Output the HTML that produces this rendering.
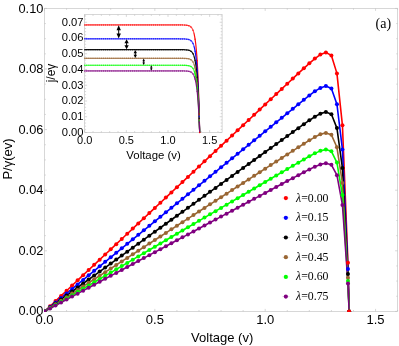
<!DOCTYPE html>
<html><head><meta charset="utf-8"><style>
html,body{margin:0;padding:0;background:#fff}
#c{position:absolute;left:0;top:0;width:399px;height:346px;overflow:hidden;background:#fff;font-family:"Liberation Sans",sans-serif;color:#000}
#L{position:absolute;left:0;top:0;width:399px;height:346px;will-change:transform;opacity:0.999}
.t{position:absolute;white-space:nowrap;line-height:1;font-family:"Liberation Sans",sans-serif}
</style></head><body><div id="c">
<svg width="399" height="346" viewBox="0 0 399 346" style="position:absolute;left:0;top:0">
<g stroke="#bdbdbd" stroke-width="0.6" fill="none">
<rect x="44.50" y="8.40" width="353.12" height="303.00"/>
<path d="M44.50 311.40v-2.5M44.50 8.40v2.5"/>
<path d="M66.57 311.40v-1.4M66.57 8.40v1.4"/>
<path d="M88.64 311.40v-1.4M88.64 8.40v1.4"/>
<path d="M110.71 311.40v-1.4M110.71 8.40v1.4"/>
<path d="M132.78 311.40v-1.4M132.78 8.40v1.4"/>
<path d="M154.85 311.40v-2.5M154.85 8.40v2.5"/>
<path d="M176.92 311.40v-1.4M176.92 8.40v1.4"/>
<path d="M198.99 311.40v-1.4M198.99 8.40v1.4"/>
<path d="M221.06 311.40v-1.4M221.06 8.40v1.4"/>
<path d="M243.13 311.40v-1.4M243.13 8.40v1.4"/>
<path d="M265.20 311.40v-2.5M265.20 8.40v2.5"/>
<path d="M287.27 311.40v-1.4M287.27 8.40v1.4"/>
<path d="M309.34 311.40v-1.4M309.34 8.40v1.4"/>
<path d="M331.41 311.40v-1.4M331.41 8.40v1.4"/>
<path d="M353.48 311.40v-1.4M353.48 8.40v1.4"/>
<path d="M375.55 311.40v-2.5M375.55 8.40v2.5"/>
<path d="M397.62 311.40v-1.4M397.62 8.40v1.4"/>
<path d="M44.50 311.40h2.5M397.62 311.40h-2.5"/>
<path d="M44.50 296.25h1.4M397.62 296.25h-1.4"/>
<path d="M44.50 281.10h1.4M397.62 281.10h-1.4"/>
<path d="M44.50 265.95h1.4M397.62 265.95h-1.4"/>
<path d="M44.50 250.80h2.5M397.62 250.80h-2.5"/>
<path d="M44.50 235.65h1.4M397.62 235.65h-1.4"/>
<path d="M44.50 220.50h1.4M397.62 220.50h-1.4"/>
<path d="M44.50 205.35h1.4M397.62 205.35h-1.4"/>
<path d="M44.50 190.20h2.5M397.62 190.20h-2.5"/>
<path d="M44.50 175.05h1.4M397.62 175.05h-1.4"/>
<path d="M44.50 159.90h1.4M397.62 159.90h-1.4"/>
<path d="M44.50 144.75h1.4M397.62 144.75h-1.4"/>
<path d="M44.50 129.60h2.5M397.62 129.60h-2.5"/>
<path d="M44.50 114.45h1.4M397.62 114.45h-1.4"/>
<path d="M44.50 99.30h1.4M397.62 99.30h-1.4"/>
<path d="M44.50 84.15h1.4M397.62 84.15h-1.4"/>
<path d="M44.50 69.00h2.5M397.62 69.00h-2.5"/>
<path d="M44.50 53.85h1.4M397.62 53.85h-1.4"/>
<path d="M44.50 38.70h1.4M397.62 38.70h-1.4"/>
<path d="M44.50 23.55h1.4M397.62 23.55h-1.4"/>
<path d="M44.50 8.40h2.5M397.62 8.40h-2.5"/>
</g>
<clipPath id="cp"><rect x="44.00" y="8.40" width="353.62" height="303.60"/></clipPath><g clip-path="url(#cp)">
<path d="M44.50 311.40 L50.02 306.23 L55.53 301.05 L61.05 295.88 L66.57 290.71 L72.09 285.53 L77.61 280.36 L83.12 275.18 L88.64 270.01 L94.16 264.84 L99.67 259.66 L105.19 254.49 L110.71 249.32 L116.23 244.14 L121.75 238.97 L127.26 233.79 L132.78 228.62 L138.30 223.45 L143.81 218.27 L149.33 213.10 L154.85 207.93 L160.37 202.75 L165.88 197.58 L171.40 192.40 L176.92 187.23 L182.44 182.06 L187.95 176.88 L193.47 171.71 L198.99 166.54 L204.51 161.36 L210.02 156.19 L215.54 151.01 L221.06 145.84 L226.58 140.67 L232.09 135.49 L237.61 130.32 L243.13 125.15 L248.65 119.97 L254.16 114.80 L259.68 109.62 L265.20 104.45 L270.72 99.28 L276.24 94.10 L281.75 88.93 L287.27 83.76 L292.79 78.60 L298.31 73.45 L303.82 68.34 L309.34 63.34 L314.86 58.61 L320.38 54.61 L325.89 52.52 L331.41 55.41 L336.93 73.39 L342.44 125.33 L347.96 262.74 L349.11 311.40" stroke="#ff0000" stroke-width="1.6" fill="none" stroke-linejoin="round"/>
<path d="M44.50 311.40 L50.02 306.90 L55.53 302.39 L61.05 297.89 L66.57 293.39 L72.09 288.88 L77.61 284.38 L83.12 279.88 L88.64 275.37 L94.16 270.87 L99.67 266.37 L105.19 261.86 L110.71 257.36 L116.23 252.86 L121.75 248.35 L127.26 243.85 L132.78 239.35 L138.30 234.84 L143.81 230.34 L149.33 225.84 L154.85 221.33 L160.37 216.83 L165.88 212.33 L171.40 207.82 L176.92 203.32 L182.44 198.82 L187.95 194.31 L193.47 189.81 L198.99 185.31 L204.51 180.80 L210.02 176.30 L215.54 171.80 L221.06 167.29 L226.58 162.79 L232.09 158.29 L237.61 153.78 L243.13 149.28 L248.65 144.78 L254.16 140.27 L259.68 135.77 L265.20 131.27 L270.72 126.76 L276.24 122.26 L281.75 117.76 L287.27 113.26 L292.79 108.76 L298.31 104.28 L303.82 99.83 L309.34 95.48 L314.86 91.37 L320.38 87.89 L325.89 86.07 L331.41 88.58 L336.93 104.23 L342.44 149.44 L347.96 269.05 L349.11 311.40" stroke="#0000ff" stroke-width="1.6" fill="none" stroke-linejoin="round"/>
<path d="M44.50 311.40 L50.02 307.42 L55.53 303.43 L61.05 299.45 L66.57 295.46 L72.09 291.48 L77.61 287.49 L83.12 283.51 L88.64 279.52 L94.16 275.54 L99.67 271.56 L105.19 267.57 L110.71 263.59 L116.23 259.60 L121.75 255.62 L127.26 251.63 L132.78 247.65 L138.30 243.66 L143.81 239.68 L149.33 235.70 L154.85 231.71 L160.37 227.73 L165.88 223.74 L171.40 219.76 L176.92 215.77 L182.44 211.79 L187.95 207.80 L193.47 203.82 L198.99 199.84 L204.51 195.85 L210.02 191.87 L215.54 187.88 L221.06 183.90 L226.58 179.91 L232.09 175.93 L237.61 171.94 L243.13 167.96 L248.65 163.98 L254.16 159.99 L259.68 156.01 L265.20 152.02 L270.72 148.04 L276.24 144.05 L281.75 140.07 L287.27 136.09 L292.79 132.11 L298.31 128.15 L303.82 124.21 L309.34 120.36 L314.86 116.72 L320.38 113.64 L325.89 112.03 L331.41 114.26 L336.93 128.10 L342.44 168.10 L347.96 273.93 L349.11 311.40" stroke="#000000" stroke-width="1.6" fill="none" stroke-linejoin="round"/>
<path d="M44.50 311.40 L50.02 307.83 L55.53 304.26 L61.05 300.70 L66.57 297.13 L72.09 293.56 L77.61 289.99 L83.12 286.43 L88.64 282.86 L94.16 279.29 L99.67 275.72 L105.19 272.15 L110.71 268.59 L116.23 265.02 L121.75 261.45 L127.26 257.88 L132.78 254.31 L138.30 250.75 L143.81 247.18 L149.33 243.61 L154.85 240.04 L160.37 236.48 L165.88 232.91 L171.40 229.34 L176.92 225.77 L182.44 222.20 L187.95 218.64 L193.47 215.07 L198.99 211.50 L204.51 207.93 L210.02 204.37 L215.54 200.80 L221.06 197.23 L226.58 193.66 L232.09 190.09 L237.61 186.53 L243.13 182.96 L248.65 179.39 L254.16 175.82 L259.68 172.25 L265.20 168.69 L270.72 165.12 L276.24 161.55 L281.75 157.99 L287.27 154.42 L292.79 150.86 L298.31 147.31 L303.82 143.78 L309.34 140.34 L314.86 137.08 L320.38 134.32 L325.89 132.88 L331.41 134.87 L336.93 147.27 L342.44 183.09 L347.96 277.84 L349.11 311.40" stroke="#996633" stroke-width="1.6" fill="none" stroke-linejoin="round"/>
<path d="M44.50 311.40 L50.02 308.17 L55.53 304.93 L61.05 301.70 L66.57 298.46 L72.09 295.23 L77.61 291.99 L83.12 288.76 L88.64 285.52 L94.16 282.29 L99.67 279.05 L105.19 275.82 L110.71 272.59 L116.23 269.35 L121.75 266.12 L127.26 262.88 L132.78 259.65 L138.30 256.41 L143.81 253.18 L149.33 249.94 L154.85 246.71 L160.37 243.47 L165.88 240.24 L171.40 237.01 L176.92 233.77 L182.44 230.54 L187.95 227.30 L193.47 224.07 L198.99 220.83 L204.51 217.60 L210.02 214.36 L215.54 211.13 L221.06 207.90 L226.58 204.66 L232.09 201.43 L237.61 198.19 L243.13 194.96 L248.65 191.72 L254.16 188.49 L259.68 185.25 L265.20 182.02 L270.72 178.78 L276.24 175.55 L281.75 172.32 L287.27 169.08 L292.79 165.86 L298.31 162.64 L303.82 159.44 L309.34 156.32 L314.86 153.36 L320.38 150.86 L325.89 149.55 L331.41 151.36 L336.93 162.60 L342.44 195.07 L347.96 280.98 L349.11 311.40" stroke="#00ff00" stroke-width="1.6" fill="none" stroke-linejoin="round"/>
<path d="M44.50 311.40 L50.02 308.44 L55.53 305.48 L61.05 302.51 L66.57 299.55 L72.09 296.59 L77.61 293.63 L83.12 290.67 L88.64 287.71 L94.16 284.74 L99.67 281.78 L105.19 278.82 L110.71 275.86 L116.23 272.90 L121.75 269.93 L127.26 266.97 L132.78 264.01 L138.30 261.05 L143.81 258.09 L149.33 255.13 L154.85 252.16 L160.37 249.20 L165.88 246.24 L171.40 243.28 L176.92 240.32 L182.44 237.35 L187.95 234.39 L193.47 231.43 L198.99 228.47 L204.51 225.51 L210.02 222.55 L215.54 219.58 L221.06 216.62 L226.58 213.66 L232.09 210.70 L237.61 207.74 L243.13 204.77 L248.65 201.81 L254.16 198.85 L259.68 195.89 L265.20 192.93 L270.72 189.97 L276.24 187.00 L281.75 184.04 L287.27 181.08 L292.79 178.13 L298.31 175.18 L303.82 172.25 L309.34 169.39 L314.86 166.69 L320.38 164.40 L325.89 163.20 L331.41 164.85 L336.93 175.14 L342.44 204.88 L347.96 283.54 L349.11 311.40" stroke="#800080" stroke-width="1.6" fill="none" stroke-linejoin="round"/>
<g fill="#ff0000"><circle cx="44.50" cy="311.40" r="2"/><circle cx="50.02" cy="306.23" r="2"/><circle cx="55.53" cy="301.05" r="2"/><circle cx="61.05" cy="295.88" r="2"/><circle cx="66.57" cy="290.71" r="2"/><circle cx="72.09" cy="285.53" r="2"/><circle cx="77.61" cy="280.36" r="2"/><circle cx="83.12" cy="275.18" r="2"/><circle cx="88.64" cy="270.01" r="2"/><circle cx="94.16" cy="264.84" r="2"/><circle cx="99.67" cy="259.66" r="2"/><circle cx="105.19" cy="254.49" r="2"/><circle cx="110.71" cy="249.32" r="2"/><circle cx="116.23" cy="244.14" r="2"/><circle cx="121.75" cy="238.97" r="2"/><circle cx="127.26" cy="233.79" r="2"/><circle cx="132.78" cy="228.62" r="2"/><circle cx="138.30" cy="223.45" r="2"/><circle cx="143.81" cy="218.27" r="2"/><circle cx="149.33" cy="213.10" r="2"/><circle cx="154.85" cy="207.93" r="2"/><circle cx="160.37" cy="202.75" r="2"/><circle cx="165.88" cy="197.58" r="2"/><circle cx="171.40" cy="192.40" r="2"/><circle cx="176.92" cy="187.23" r="2"/><circle cx="182.44" cy="182.06" r="2"/><circle cx="187.95" cy="176.88" r="2"/><circle cx="193.47" cy="171.71" r="2"/><circle cx="198.99" cy="166.54" r="2"/><circle cx="204.51" cy="161.36" r="2"/><circle cx="210.02" cy="156.19" r="2"/><circle cx="215.54" cy="151.01" r="2"/><circle cx="221.06" cy="145.84" r="2"/><circle cx="226.58" cy="140.67" r="2"/><circle cx="232.09" cy="135.49" r="2"/><circle cx="237.61" cy="130.32" r="2"/><circle cx="243.13" cy="125.15" r="2"/><circle cx="248.65" cy="119.97" r="2"/><circle cx="254.16" cy="114.80" r="2"/><circle cx="259.68" cy="109.62" r="2"/><circle cx="265.20" cy="104.45" r="2"/><circle cx="270.72" cy="99.28" r="2"/><circle cx="276.24" cy="94.10" r="2"/><circle cx="281.75" cy="88.93" r="2"/><circle cx="287.27" cy="83.76" r="2"/><circle cx="292.79" cy="78.60" r="2"/><circle cx="298.31" cy="73.45" r="2"/><circle cx="303.82" cy="68.34" r="2"/><circle cx="309.34" cy="63.34" r="2"/><circle cx="314.86" cy="58.61" r="2"/><circle cx="320.38" cy="54.61" r="2"/><circle cx="325.89" cy="52.52" r="2"/><circle cx="331.41" cy="55.41" r="2"/><circle cx="336.93" cy="73.39" r="2"/><circle cx="342.44" cy="125.33" r="2"/><circle cx="347.96" cy="262.74" r="2"/><circle cx="349.11" cy="311.40" r="2"/></g>
<g fill="#0000ff"><circle cx="44.50" cy="311.40" r="2"/><circle cx="50.02" cy="306.90" r="2"/><circle cx="55.53" cy="302.39" r="2"/><circle cx="61.05" cy="297.89" r="2"/><circle cx="66.57" cy="293.39" r="2"/><circle cx="72.09" cy="288.88" r="2"/><circle cx="77.61" cy="284.38" r="2"/><circle cx="83.12" cy="279.88" r="2"/><circle cx="88.64" cy="275.37" r="2"/><circle cx="94.16" cy="270.87" r="2"/><circle cx="99.67" cy="266.37" r="2"/><circle cx="105.19" cy="261.86" r="2"/><circle cx="110.71" cy="257.36" r="2"/><circle cx="116.23" cy="252.86" r="2"/><circle cx="121.75" cy="248.35" r="2"/><circle cx="127.26" cy="243.85" r="2"/><circle cx="132.78" cy="239.35" r="2"/><circle cx="138.30" cy="234.84" r="2"/><circle cx="143.81" cy="230.34" r="2"/><circle cx="149.33" cy="225.84" r="2"/><circle cx="154.85" cy="221.33" r="2"/><circle cx="160.37" cy="216.83" r="2"/><circle cx="165.88" cy="212.33" r="2"/><circle cx="171.40" cy="207.82" r="2"/><circle cx="176.92" cy="203.32" r="2"/><circle cx="182.44" cy="198.82" r="2"/><circle cx="187.95" cy="194.31" r="2"/><circle cx="193.47" cy="189.81" r="2"/><circle cx="198.99" cy="185.31" r="2"/><circle cx="204.51" cy="180.80" r="2"/><circle cx="210.02" cy="176.30" r="2"/><circle cx="215.54" cy="171.80" r="2"/><circle cx="221.06" cy="167.29" r="2"/><circle cx="226.58" cy="162.79" r="2"/><circle cx="232.09" cy="158.29" r="2"/><circle cx="237.61" cy="153.78" r="2"/><circle cx="243.13" cy="149.28" r="2"/><circle cx="248.65" cy="144.78" r="2"/><circle cx="254.16" cy="140.27" r="2"/><circle cx="259.68" cy="135.77" r="2"/><circle cx="265.20" cy="131.27" r="2"/><circle cx="270.72" cy="126.76" r="2"/><circle cx="276.24" cy="122.26" r="2"/><circle cx="281.75" cy="117.76" r="2"/><circle cx="287.27" cy="113.26" r="2"/><circle cx="292.79" cy="108.76" r="2"/><circle cx="298.31" cy="104.28" r="2"/><circle cx="303.82" cy="99.83" r="2"/><circle cx="309.34" cy="95.48" r="2"/><circle cx="314.86" cy="91.37" r="2"/><circle cx="320.38" cy="87.89" r="2"/><circle cx="325.89" cy="86.07" r="2"/><circle cx="331.41" cy="88.58" r="2"/><circle cx="336.93" cy="104.23" r="2"/><circle cx="342.44" cy="149.44" r="2"/><circle cx="347.96" cy="269.05" r="2"/><circle cx="349.11" cy="311.40" r="2"/></g>
<g fill="#000000"><circle cx="44.50" cy="311.40" r="2"/><circle cx="50.02" cy="307.42" r="2"/><circle cx="55.53" cy="303.43" r="2"/><circle cx="61.05" cy="299.45" r="2"/><circle cx="66.57" cy="295.46" r="2"/><circle cx="72.09" cy="291.48" r="2"/><circle cx="77.61" cy="287.49" r="2"/><circle cx="83.12" cy="283.51" r="2"/><circle cx="88.64" cy="279.52" r="2"/><circle cx="94.16" cy="275.54" r="2"/><circle cx="99.67" cy="271.56" r="2"/><circle cx="105.19" cy="267.57" r="2"/><circle cx="110.71" cy="263.59" r="2"/><circle cx="116.23" cy="259.60" r="2"/><circle cx="121.75" cy="255.62" r="2"/><circle cx="127.26" cy="251.63" r="2"/><circle cx="132.78" cy="247.65" r="2"/><circle cx="138.30" cy="243.66" r="2"/><circle cx="143.81" cy="239.68" r="2"/><circle cx="149.33" cy="235.70" r="2"/><circle cx="154.85" cy="231.71" r="2"/><circle cx="160.37" cy="227.73" r="2"/><circle cx="165.88" cy="223.74" r="2"/><circle cx="171.40" cy="219.76" r="2"/><circle cx="176.92" cy="215.77" r="2"/><circle cx="182.44" cy="211.79" r="2"/><circle cx="187.95" cy="207.80" r="2"/><circle cx="193.47" cy="203.82" r="2"/><circle cx="198.99" cy="199.84" r="2"/><circle cx="204.51" cy="195.85" r="2"/><circle cx="210.02" cy="191.87" r="2"/><circle cx="215.54" cy="187.88" r="2"/><circle cx="221.06" cy="183.90" r="2"/><circle cx="226.58" cy="179.91" r="2"/><circle cx="232.09" cy="175.93" r="2"/><circle cx="237.61" cy="171.94" r="2"/><circle cx="243.13" cy="167.96" r="2"/><circle cx="248.65" cy="163.98" r="2"/><circle cx="254.16" cy="159.99" r="2"/><circle cx="259.68" cy="156.01" r="2"/><circle cx="265.20" cy="152.02" r="2"/><circle cx="270.72" cy="148.04" r="2"/><circle cx="276.24" cy="144.05" r="2"/><circle cx="281.75" cy="140.07" r="2"/><circle cx="287.27" cy="136.09" r="2"/><circle cx="292.79" cy="132.11" r="2"/><circle cx="298.31" cy="128.15" r="2"/><circle cx="303.82" cy="124.21" r="2"/><circle cx="309.34" cy="120.36" r="2"/><circle cx="314.86" cy="116.72" r="2"/><circle cx="320.38" cy="113.64" r="2"/><circle cx="325.89" cy="112.03" r="2"/><circle cx="331.41" cy="114.26" r="2"/><circle cx="336.93" cy="128.10" r="2"/><circle cx="342.44" cy="168.10" r="2"/><circle cx="347.96" cy="273.93" r="2"/><circle cx="349.11" cy="311.40" r="2"/></g>
<g fill="#996633"><circle cx="44.50" cy="311.40" r="2"/><circle cx="50.02" cy="307.83" r="2"/><circle cx="55.53" cy="304.26" r="2"/><circle cx="61.05" cy="300.70" r="2"/><circle cx="66.57" cy="297.13" r="2"/><circle cx="72.09" cy="293.56" r="2"/><circle cx="77.61" cy="289.99" r="2"/><circle cx="83.12" cy="286.43" r="2"/><circle cx="88.64" cy="282.86" r="2"/><circle cx="94.16" cy="279.29" r="2"/><circle cx="99.67" cy="275.72" r="2"/><circle cx="105.19" cy="272.15" r="2"/><circle cx="110.71" cy="268.59" r="2"/><circle cx="116.23" cy="265.02" r="2"/><circle cx="121.75" cy="261.45" r="2"/><circle cx="127.26" cy="257.88" r="2"/><circle cx="132.78" cy="254.31" r="2"/><circle cx="138.30" cy="250.75" r="2"/><circle cx="143.81" cy="247.18" r="2"/><circle cx="149.33" cy="243.61" r="2"/><circle cx="154.85" cy="240.04" r="2"/><circle cx="160.37" cy="236.48" r="2"/><circle cx="165.88" cy="232.91" r="2"/><circle cx="171.40" cy="229.34" r="2"/><circle cx="176.92" cy="225.77" r="2"/><circle cx="182.44" cy="222.20" r="2"/><circle cx="187.95" cy="218.64" r="2"/><circle cx="193.47" cy="215.07" r="2"/><circle cx="198.99" cy="211.50" r="2"/><circle cx="204.51" cy="207.93" r="2"/><circle cx="210.02" cy="204.37" r="2"/><circle cx="215.54" cy="200.80" r="2"/><circle cx="221.06" cy="197.23" r="2"/><circle cx="226.58" cy="193.66" r="2"/><circle cx="232.09" cy="190.09" r="2"/><circle cx="237.61" cy="186.53" r="2"/><circle cx="243.13" cy="182.96" r="2"/><circle cx="248.65" cy="179.39" r="2"/><circle cx="254.16" cy="175.82" r="2"/><circle cx="259.68" cy="172.25" r="2"/><circle cx="265.20" cy="168.69" r="2"/><circle cx="270.72" cy="165.12" r="2"/><circle cx="276.24" cy="161.55" r="2"/><circle cx="281.75" cy="157.99" r="2"/><circle cx="287.27" cy="154.42" r="2"/><circle cx="292.79" cy="150.86" r="2"/><circle cx="298.31" cy="147.31" r="2"/><circle cx="303.82" cy="143.78" r="2"/><circle cx="309.34" cy="140.34" r="2"/><circle cx="314.86" cy="137.08" r="2"/><circle cx="320.38" cy="134.32" r="2"/><circle cx="325.89" cy="132.88" r="2"/><circle cx="331.41" cy="134.87" r="2"/><circle cx="336.93" cy="147.27" r="2"/><circle cx="342.44" cy="183.09" r="2"/><circle cx="347.96" cy="277.84" r="2"/><circle cx="349.11" cy="311.40" r="2"/></g>
<g fill="#00ff00"><circle cx="44.50" cy="311.40" r="2"/><circle cx="50.02" cy="308.17" r="2"/><circle cx="55.53" cy="304.93" r="2"/><circle cx="61.05" cy="301.70" r="2"/><circle cx="66.57" cy="298.46" r="2"/><circle cx="72.09" cy="295.23" r="2"/><circle cx="77.61" cy="291.99" r="2"/><circle cx="83.12" cy="288.76" r="2"/><circle cx="88.64" cy="285.52" r="2"/><circle cx="94.16" cy="282.29" r="2"/><circle cx="99.67" cy="279.05" r="2"/><circle cx="105.19" cy="275.82" r="2"/><circle cx="110.71" cy="272.59" r="2"/><circle cx="116.23" cy="269.35" r="2"/><circle cx="121.75" cy="266.12" r="2"/><circle cx="127.26" cy="262.88" r="2"/><circle cx="132.78" cy="259.65" r="2"/><circle cx="138.30" cy="256.41" r="2"/><circle cx="143.81" cy="253.18" r="2"/><circle cx="149.33" cy="249.94" r="2"/><circle cx="154.85" cy="246.71" r="2"/><circle cx="160.37" cy="243.47" r="2"/><circle cx="165.88" cy="240.24" r="2"/><circle cx="171.40" cy="237.01" r="2"/><circle cx="176.92" cy="233.77" r="2"/><circle cx="182.44" cy="230.54" r="2"/><circle cx="187.95" cy="227.30" r="2"/><circle cx="193.47" cy="224.07" r="2"/><circle cx="198.99" cy="220.83" r="2"/><circle cx="204.51" cy="217.60" r="2"/><circle cx="210.02" cy="214.36" r="2"/><circle cx="215.54" cy="211.13" r="2"/><circle cx="221.06" cy="207.90" r="2"/><circle cx="226.58" cy="204.66" r="2"/><circle cx="232.09" cy="201.43" r="2"/><circle cx="237.61" cy="198.19" r="2"/><circle cx="243.13" cy="194.96" r="2"/><circle cx="248.65" cy="191.72" r="2"/><circle cx="254.16" cy="188.49" r="2"/><circle cx="259.68" cy="185.25" r="2"/><circle cx="265.20" cy="182.02" r="2"/><circle cx="270.72" cy="178.78" r="2"/><circle cx="276.24" cy="175.55" r="2"/><circle cx="281.75" cy="172.32" r="2"/><circle cx="287.27" cy="169.08" r="2"/><circle cx="292.79" cy="165.86" r="2"/><circle cx="298.31" cy="162.64" r="2"/><circle cx="303.82" cy="159.44" r="2"/><circle cx="309.34" cy="156.32" r="2"/><circle cx="314.86" cy="153.36" r="2"/><circle cx="320.38" cy="150.86" r="2"/><circle cx="325.89" cy="149.55" r="2"/><circle cx="331.41" cy="151.36" r="2"/><circle cx="336.93" cy="162.60" r="2"/><circle cx="342.44" cy="195.07" r="2"/><circle cx="347.96" cy="280.98" r="2"/><circle cx="349.11" cy="311.40" r="2"/></g>
<g fill="#800080"><circle cx="44.50" cy="311.40" r="2"/><circle cx="50.02" cy="308.44" r="2"/><circle cx="55.53" cy="305.48" r="2"/><circle cx="61.05" cy="302.51" r="2"/><circle cx="66.57" cy="299.55" r="2"/><circle cx="72.09" cy="296.59" r="2"/><circle cx="77.61" cy="293.63" r="2"/><circle cx="83.12" cy="290.67" r="2"/><circle cx="88.64" cy="287.71" r="2"/><circle cx="94.16" cy="284.74" r="2"/><circle cx="99.67" cy="281.78" r="2"/><circle cx="105.19" cy="278.82" r="2"/><circle cx="110.71" cy="275.86" r="2"/><circle cx="116.23" cy="272.90" r="2"/><circle cx="121.75" cy="269.93" r="2"/><circle cx="127.26" cy="266.97" r="2"/><circle cx="132.78" cy="264.01" r="2"/><circle cx="138.30" cy="261.05" r="2"/><circle cx="143.81" cy="258.09" r="2"/><circle cx="149.33" cy="255.13" r="2"/><circle cx="154.85" cy="252.16" r="2"/><circle cx="160.37" cy="249.20" r="2"/><circle cx="165.88" cy="246.24" r="2"/><circle cx="171.40" cy="243.28" r="2"/><circle cx="176.92" cy="240.32" r="2"/><circle cx="182.44" cy="237.35" r="2"/><circle cx="187.95" cy="234.39" r="2"/><circle cx="193.47" cy="231.43" r="2"/><circle cx="198.99" cy="228.47" r="2"/><circle cx="204.51" cy="225.51" r="2"/><circle cx="210.02" cy="222.55" r="2"/><circle cx="215.54" cy="219.58" r="2"/><circle cx="221.06" cy="216.62" r="2"/><circle cx="226.58" cy="213.66" r="2"/><circle cx="232.09" cy="210.70" r="2"/><circle cx="237.61" cy="207.74" r="2"/><circle cx="243.13" cy="204.77" r="2"/><circle cx="248.65" cy="201.81" r="2"/><circle cx="254.16" cy="198.85" r="2"/><circle cx="259.68" cy="195.89" r="2"/><circle cx="265.20" cy="192.93" r="2"/><circle cx="270.72" cy="189.97" r="2"/><circle cx="276.24" cy="187.00" r="2"/><circle cx="281.75" cy="184.04" r="2"/><circle cx="287.27" cy="181.08" r="2"/><circle cx="292.79" cy="178.13" r="2"/><circle cx="298.31" cy="175.18" r="2"/><circle cx="303.82" cy="172.25" r="2"/><circle cx="309.34" cy="169.39" r="2"/><circle cx="314.86" cy="166.69" r="2"/><circle cx="320.38" cy="164.40" r="2"/><circle cx="325.89" cy="163.20" r="2"/><circle cx="331.41" cy="164.85" r="2"/><circle cx="336.93" cy="175.14" r="2"/><circle cx="342.44" cy="204.88" r="2"/><circle cx="347.96" cy="283.54" r="2"/><circle cx="349.11" cy="311.40" r="2"/></g>
<circle cx="349.11" cy="311.40" r="2" fill="#ff0000"/>
</g>
<rect x="84.70" y="14.50" width="137.40" height="118.00" fill="#fff" stroke="none"/>
<g stroke="#bdbdbd" stroke-width="0.6" fill="none">
<rect x="84.70" y="14.50" width="137.40" height="118.00"/>
<path d="M84.70 132.50v-2.4M84.70 14.50v2.4"/>
<path d="M93.03 132.50v-1.4M93.03 14.50v1.4"/>
<path d="M101.36 132.50v-1.4M101.36 14.50v1.4"/>
<path d="M109.69 132.50v-1.4M109.69 14.50v1.4"/>
<path d="M118.02 132.50v-1.4M118.02 14.50v1.4"/>
<path d="M126.35 132.50v-2.4M126.35 14.50v2.4"/>
<path d="M134.68 132.50v-1.4M134.68 14.50v1.4"/>
<path d="M143.01 132.50v-1.4M143.01 14.50v1.4"/>
<path d="M151.34 132.50v-1.4M151.34 14.50v1.4"/>
<path d="M159.67 132.50v-1.4M159.67 14.50v1.4"/>
<path d="M168.00 132.50v-2.4M168.00 14.50v2.4"/>
<path d="M176.33 132.50v-1.4M176.33 14.50v1.4"/>
<path d="M184.66 132.50v-1.4M184.66 14.50v1.4"/>
<path d="M192.99 132.50v-1.4M192.99 14.50v1.4"/>
<path d="M201.32 132.50v-1.4M201.32 14.50v1.4"/>
<path d="M209.65 132.50v-2.4M209.65 14.50v2.4"/>
<path d="M217.98 132.50v-1.4M217.98 14.50v1.4"/>
<path d="M84.70 132.50h2.4M222.10 132.50h-2.4"/>
<path d="M84.70 129.35h1.4M222.10 129.35h-1.4"/>
<path d="M84.70 126.20h1.4M222.10 126.20h-1.4"/>
<path d="M84.70 123.05h1.4M222.10 123.05h-1.4"/>
<path d="M84.70 119.90h1.4M222.10 119.90h-1.4"/>
<path d="M84.70 116.75h2.4M222.10 116.75h-2.4"/>
<path d="M84.70 113.60h1.4M222.10 113.60h-1.4"/>
<path d="M84.70 110.45h1.4M222.10 110.45h-1.4"/>
<path d="M84.70 107.30h1.4M222.10 107.30h-1.4"/>
<path d="M84.70 104.15h1.4M222.10 104.15h-1.4"/>
<path d="M84.70 101.00h2.4M222.10 101.00h-2.4"/>
<path d="M84.70 97.85h1.4M222.10 97.85h-1.4"/>
<path d="M84.70 94.70h1.4M222.10 94.70h-1.4"/>
<path d="M84.70 91.55h1.4M222.10 91.55h-1.4"/>
<path d="M84.70 88.40h1.4M222.10 88.40h-1.4"/>
<path d="M84.70 85.25h2.4M222.10 85.25h-2.4"/>
<path d="M84.70 82.10h1.4M222.10 82.10h-1.4"/>
<path d="M84.70 78.95h1.4M222.10 78.95h-1.4"/>
<path d="M84.70 75.80h1.4M222.10 75.80h-1.4"/>
<path d="M84.70 72.65h1.4M222.10 72.65h-1.4"/>
<path d="M84.70 69.50h2.4M222.10 69.50h-2.4"/>
<path d="M84.70 66.35h1.4M222.10 66.35h-1.4"/>
<path d="M84.70 63.20h1.4M222.10 63.20h-1.4"/>
<path d="M84.70 60.05h1.4M222.10 60.05h-1.4"/>
<path d="M84.70 56.90h1.4M222.10 56.90h-1.4"/>
<path d="M84.70 53.75h2.4M222.10 53.75h-2.4"/>
<path d="M84.70 50.60h1.4M222.10 50.60h-1.4"/>
<path d="M84.70 47.45h1.4M222.10 47.45h-1.4"/>
<path d="M84.70 44.30h1.4M222.10 44.30h-1.4"/>
<path d="M84.70 41.15h1.4M222.10 41.15h-1.4"/>
<path d="M84.70 38.00h2.4M222.10 38.00h-2.4"/>
<path d="M84.70 34.85h1.4M222.10 34.85h-1.4"/>
<path d="M84.70 31.70h1.4M222.10 31.70h-1.4"/>
<path d="M84.70 28.55h1.4M222.10 28.55h-1.4"/>
<path d="M84.70 25.40h1.4M222.10 25.40h-1.4"/>
<path d="M84.70 22.25h2.4M222.10 22.25h-2.4"/>
<path d="M84.70 19.10h1.4M222.10 19.10h-1.4"/>
<path d="M84.70 15.95h1.4M222.10 15.95h-1.4"/>
</g>
<path d="M84.70 24.93 L85.12 24.93 L85.53 24.93 L85.95 24.93 L86.37 24.93 L86.78 24.93 L87.20 24.93 L87.62 24.93 L88.03 24.93 L88.45 24.93 L88.87 24.93 L89.28 24.93 L89.70 24.93 L90.11 24.93 L90.53 24.93 L90.95 24.93 L91.36 24.93 L91.78 24.93 L92.20 24.93 L92.61 24.93 L93.03 24.93 L93.45 24.93 L93.86 24.93 L94.28 24.93 L94.70 24.93 L95.11 24.93 L95.53 24.93 L95.95 24.93 L96.36 24.93 L96.78 24.93 L97.20 24.93 L97.61 24.93 L98.03 24.93 L98.44 24.93 L98.86 24.93 L99.28 24.93 L99.69 24.93 L100.11 24.93 L100.53 24.93 L100.94 24.93 L101.36 24.93 L101.78 24.93 L102.19 24.93 L102.61 24.93 L103.03 24.93 L103.44 24.93 L103.86 24.93 L104.28 24.93 L104.69 24.93 L105.11 24.93 L105.53 24.93 L105.94 24.93 L106.36 24.93 L106.77 24.93 L107.19 24.93 L107.61 24.93 L108.02 24.93 L108.44 24.93 L108.86 24.93 L109.27 24.93 L109.69 24.93 L110.11 24.93 L110.52 24.93 L110.94 24.93 L111.36 24.93 L111.77 24.93 L112.19 24.93 L112.61 24.93 L113.02 24.93 L113.44 24.93 L113.86 24.93 L114.27 24.93 L114.69 24.93 L115.10 24.93 L115.52 24.93 L115.94 24.93 L116.35 24.93 L116.77 24.93 L117.19 24.93 L117.60 24.93 L118.02 24.93 L118.44 24.93 L118.85 24.93 L119.27 24.93 L119.69 24.93 L120.10 24.93 L120.52 24.93 L120.94 24.93 L121.35 24.93 L121.77 24.93 L122.19 24.93 L122.60 24.93 L123.02 24.93 L123.43 24.93 L123.85 24.93 L124.27 24.93 L124.68 24.93 L125.10 24.93 L125.52 24.93 L125.93 24.93 L126.35 24.93 L126.77 24.93 L127.18 24.93 L127.60 24.93 L128.02 24.93 L128.43 24.93 L128.85 24.93 L129.27 24.93 L129.68 24.93 L130.10 24.93 L130.52 24.93 L130.93 24.93 L131.35 24.93 L131.76 24.93 L132.18 24.93 L132.60 24.93 L133.01 24.93 L133.43 24.93 L133.85 24.93 L134.26 24.93 L134.68 24.93 L135.10 24.93 L135.51 24.93 L135.93 24.93 L136.35 24.93 L136.76 24.93 L137.18 24.93 L137.60 24.93 L138.01 24.93 L138.43 24.93 L138.84 24.93 L139.26 24.93 L139.68 24.93 L140.09 24.93 L140.51 24.93 L140.93 24.93 L141.34 24.93 L141.76 24.93 L142.18 24.93 L142.59 24.93 L143.01 24.93 L143.43 24.93 L143.84 24.93 L144.26 24.93 L144.68 24.93 L145.09 24.93 L145.51 24.93 L145.93 24.93 L146.34 24.93 L146.76 24.93 L147.18 24.93 L147.59 24.93 L148.01 24.93 L148.42 24.93 L148.84 24.93 L149.26 24.93 L149.67 24.93 L150.09 24.93 L150.51 24.93 L150.92 24.93 L151.34 24.93 L151.76 24.93 L152.17 24.93 L152.59 24.93 L153.01 24.93 L153.42 24.93 L153.84 24.93 L154.26 24.93 L154.67 24.93 L155.09 24.93 L155.50 24.93 L155.92 24.93 L156.34 24.93 L156.75 24.93 L157.17 24.93 L157.59 24.93 L158.00 24.93 L158.42 24.93 L158.84 24.93 L159.25 24.93 L159.67 24.93 L160.09 24.93 L160.50 24.93 L160.92 24.93 L161.34 24.93 L161.75 24.93 L162.17 24.93 L162.59 24.93 L163.00 24.93 L163.42 24.93 L163.84 24.93 L164.25 24.93 L164.67 24.93 L165.08 24.93 L165.50 24.93 L165.92 24.93 L166.33 24.93 L166.75 24.93 L167.17 24.93 L167.58 24.93 L168.00 24.93 L168.42 24.93 L168.83 24.93 L169.25 24.93 L169.67 24.93 L170.08 24.93 L170.50 24.93 L170.92 24.93 L171.33 24.93 L171.75 24.93 L172.17 24.93 L172.58 24.93 L173.00 24.93 L173.41 24.93 L173.83 24.93 L174.25 24.93 L174.66 24.93 L175.08 24.93 L175.50 24.93 L175.91 24.93 L176.33 24.93 L176.75 24.93 L177.16 24.93 L177.58 24.93 L178.00 24.93 L178.41 24.93 L178.83 24.94 L179.25 24.94 L179.66 24.94 L180.08 24.94 L180.50 24.95 L180.91 24.95 L181.33 24.95 L181.74 24.96 L182.16 24.97 L182.58 24.97 L182.99 24.98 L183.41 25.00 L183.83 25.01 L184.24 25.03 L184.66 25.05 L185.08 25.07 L185.49 25.10 L185.91 25.14 L186.33 25.18 L186.74 25.24 L187.16 25.30 L187.58 25.38 L187.99 25.47 L188.41 25.58 L188.82 25.72 L189.24 25.88 L189.66 26.08 L190.07 26.32 L190.49 26.61 L190.91 26.96 L191.32 27.38 L191.74 27.89 L192.16 28.50 L192.57 29.25 L192.99 30.14 L193.41 31.30 L193.82 32.71" stroke="#ff0000" stroke-width="1.2" stroke-opacity="0.68" fill="none" stroke-linejoin="round"/>
<path d="M193.82 32.71 L194.24 34.44 L194.66 36.55 L195.07 39.13 L195.49 42.02 L195.91 45.51 L196.32 49.71 L196.74 54.77 L197.16 60.86 L197.57 68.02 L197.99 76.61 L198.40 86.92 L198.82 99.28 L199.24 114.11 L199.65 131.73 L199.67 132.50" stroke="#ff0000" stroke-width="1.2" stroke-opacity="0.95" fill="none" stroke-linejoin="round"/>
<path d="M84.70 38.87 L85.12 38.87 L85.53 38.87 L85.95 38.87 L86.37 38.87 L86.78 38.87 L87.20 38.87 L87.62 38.87 L88.03 38.87 L88.45 38.87 L88.87 38.87 L89.28 38.87 L89.70 38.87 L90.11 38.87 L90.53 38.87 L90.95 38.87 L91.36 38.87 L91.78 38.87 L92.20 38.87 L92.61 38.87 L93.03 38.87 L93.45 38.87 L93.86 38.87 L94.28 38.87 L94.70 38.87 L95.11 38.87 L95.53 38.87 L95.95 38.87 L96.36 38.87 L96.78 38.87 L97.20 38.87 L97.61 38.87 L98.03 38.87 L98.44 38.87 L98.86 38.87 L99.28 38.87 L99.69 38.87 L100.11 38.87 L100.53 38.87 L100.94 38.87 L101.36 38.87 L101.78 38.87 L102.19 38.87 L102.61 38.87 L103.03 38.87 L103.44 38.87 L103.86 38.87 L104.28 38.87 L104.69 38.87 L105.11 38.87 L105.53 38.87 L105.94 38.87 L106.36 38.87 L106.77 38.87 L107.19 38.87 L107.61 38.87 L108.02 38.87 L108.44 38.87 L108.86 38.87 L109.27 38.87 L109.69 38.87 L110.11 38.87 L110.52 38.87 L110.94 38.87 L111.36 38.87 L111.77 38.87 L112.19 38.87 L112.61 38.87 L113.02 38.87 L113.44 38.87 L113.86 38.87 L114.27 38.87 L114.69 38.87 L115.10 38.87 L115.52 38.87 L115.94 38.87 L116.35 38.87 L116.77 38.87 L117.19 38.87 L117.60 38.87 L118.02 38.87 L118.44 38.87 L118.85 38.87 L119.27 38.87 L119.69 38.87 L120.10 38.87 L120.52 38.87 L120.94 38.87 L121.35 38.87 L121.77 38.87 L122.19 38.87 L122.60 38.87 L123.02 38.87 L123.43 38.87 L123.85 38.87 L124.27 38.87 L124.68 38.87 L125.10 38.87 L125.52 38.87 L125.93 38.87 L126.35 38.87 L126.77 38.87 L127.18 38.87 L127.60 38.87 L128.02 38.87 L128.43 38.87 L128.85 38.87 L129.27 38.87 L129.68 38.87 L130.10 38.87 L130.52 38.87 L130.93 38.87 L131.35 38.87 L131.76 38.87 L132.18 38.87 L132.60 38.87 L133.01 38.87 L133.43 38.87 L133.85 38.87 L134.26 38.87 L134.68 38.87 L135.10 38.87 L135.51 38.87 L135.93 38.87 L136.35 38.87 L136.76 38.87 L137.18 38.87 L137.60 38.87 L138.01 38.87 L138.43 38.87 L138.84 38.87 L139.26 38.87 L139.68 38.87 L140.09 38.87 L140.51 38.87 L140.93 38.87 L141.34 38.87 L141.76 38.87 L142.18 38.87 L142.59 38.87 L143.01 38.87 L143.43 38.87 L143.84 38.87 L144.26 38.87 L144.68 38.87 L145.09 38.87 L145.51 38.87 L145.93 38.87 L146.34 38.87 L146.76 38.87 L147.18 38.87 L147.59 38.87 L148.01 38.87 L148.42 38.87 L148.84 38.87 L149.26 38.87 L149.67 38.87 L150.09 38.87 L150.51 38.87 L150.92 38.87 L151.34 38.87 L151.76 38.87 L152.17 38.87 L152.59 38.87 L153.01 38.87 L153.42 38.87 L153.84 38.87 L154.26 38.87 L154.67 38.87 L155.09 38.87 L155.50 38.87 L155.92 38.87 L156.34 38.87 L156.75 38.87 L157.17 38.87 L157.59 38.87 L158.00 38.87 L158.42 38.87 L158.84 38.87 L159.25 38.87 L159.67 38.87 L160.09 38.87 L160.50 38.87 L160.92 38.87 L161.34 38.87 L161.75 38.87 L162.17 38.87 L162.59 38.87 L163.00 38.87 L163.42 38.87 L163.84 38.87 L164.25 38.87 L164.67 38.87 L165.08 38.87 L165.50 38.87 L165.92 38.87 L166.33 38.87 L166.75 38.87 L167.17 38.87 L167.58 38.87 L168.00 38.87 L168.42 38.87 L168.83 38.87 L169.25 38.87 L169.67 38.87 L170.08 38.87 L170.50 38.87 L170.92 38.87 L171.33 38.87 L171.75 38.87 L172.17 38.87 L172.58 38.87 L173.00 38.87 L173.41 38.87 L173.83 38.87 L174.25 38.87 L174.66 38.87 L175.08 38.87 L175.50 38.87 L175.91 38.87 L176.33 38.87 L176.75 38.87 L177.16 38.87 L177.58 38.87 L178.00 38.87 L178.41 38.87 L178.83 38.87 L179.25 38.88 L179.66 38.88 L180.08 38.88 L180.50 38.88 L180.91 38.89 L181.33 38.89 L181.74 38.89 L182.16 38.90 L182.58 38.91 L182.99 38.92 L183.41 38.93 L183.83 38.94 L184.24 38.95 L184.66 38.97 L185.08 38.99 L185.49 39.02 L185.91 39.05 L186.33 39.09 L186.74 39.13 L187.16 39.19 L187.58 39.26 L187.99 39.34 L188.41 39.44 L188.82 39.55 L189.24 39.70 L189.66 39.87 L190.07 40.08 L190.49 40.33 L190.91 40.63 L191.32 41.00 L191.74 41.44 L192.16 41.98 L192.57 42.63 L192.99 43.41 L193.41 44.41 L193.82 45.64" stroke="#0000ff" stroke-width="1.2" stroke-opacity="0.68" fill="none" stroke-linejoin="round"/>
<path d="M193.82 45.64 L194.24 47.15 L194.66 48.98 L195.07 51.23 L195.49 53.75 L195.91 56.78 L196.32 60.44 L196.74 64.84 L197.16 70.14 L197.57 76.38 L197.99 83.85 L198.40 92.83 L198.82 103.58 L199.24 116.49 L199.65 131.83 L199.67 132.50" stroke="#0000ff" stroke-width="1.2" stroke-opacity="0.95" fill="none" stroke-linejoin="round"/>
<path d="M84.70 49.66 L85.12 49.66 L85.53 49.66 L85.95 49.66 L86.37 49.66 L86.78 49.66 L87.20 49.66 L87.62 49.66 L88.03 49.66 L88.45 49.66 L88.87 49.66 L89.28 49.66 L89.70 49.66 L90.11 49.66 L90.53 49.66 L90.95 49.66 L91.36 49.66 L91.78 49.66 L92.20 49.66 L92.61 49.66 L93.03 49.66 L93.45 49.66 L93.86 49.66 L94.28 49.66 L94.70 49.66 L95.11 49.66 L95.53 49.66 L95.95 49.66 L96.36 49.66 L96.78 49.66 L97.20 49.66 L97.61 49.66 L98.03 49.66 L98.44 49.66 L98.86 49.66 L99.28 49.66 L99.69 49.66 L100.11 49.66 L100.53 49.66 L100.94 49.66 L101.36 49.66 L101.78 49.66 L102.19 49.66 L102.61 49.66 L103.03 49.66 L103.44 49.66 L103.86 49.66 L104.28 49.66 L104.69 49.66 L105.11 49.66 L105.53 49.66 L105.94 49.66 L106.36 49.66 L106.77 49.66 L107.19 49.66 L107.61 49.66 L108.02 49.66 L108.44 49.66 L108.86 49.66 L109.27 49.66 L109.69 49.66 L110.11 49.66 L110.52 49.66 L110.94 49.66 L111.36 49.66 L111.77 49.66 L112.19 49.66 L112.61 49.66 L113.02 49.66 L113.44 49.66 L113.86 49.66 L114.27 49.66 L114.69 49.66 L115.10 49.66 L115.52 49.66 L115.94 49.66 L116.35 49.66 L116.77 49.66 L117.19 49.66 L117.60 49.66 L118.02 49.66 L118.44 49.66 L118.85 49.66 L119.27 49.66 L119.69 49.66 L120.10 49.66 L120.52 49.66 L120.94 49.66 L121.35 49.66 L121.77 49.66 L122.19 49.66 L122.60 49.66 L123.02 49.66 L123.43 49.66 L123.85 49.66 L124.27 49.66 L124.68 49.66 L125.10 49.66 L125.52 49.66 L125.93 49.66 L126.35 49.66 L126.77 49.66 L127.18 49.66 L127.60 49.66 L128.02 49.66 L128.43 49.66 L128.85 49.66 L129.27 49.66 L129.68 49.66 L130.10 49.66 L130.52 49.66 L130.93 49.66 L131.35 49.66 L131.76 49.66 L132.18 49.66 L132.60 49.66 L133.01 49.66 L133.43 49.66 L133.85 49.66 L134.26 49.66 L134.68 49.66 L135.10 49.66 L135.51 49.66 L135.93 49.66 L136.35 49.66 L136.76 49.66 L137.18 49.66 L137.60 49.66 L138.01 49.66 L138.43 49.66 L138.84 49.66 L139.26 49.66 L139.68 49.66 L140.09 49.66 L140.51 49.66 L140.93 49.66 L141.34 49.66 L141.76 49.66 L142.18 49.66 L142.59 49.66 L143.01 49.66 L143.43 49.66 L143.84 49.66 L144.26 49.66 L144.68 49.66 L145.09 49.66 L145.51 49.66 L145.93 49.66 L146.34 49.66 L146.76 49.66 L147.18 49.66 L147.59 49.66 L148.01 49.66 L148.42 49.66 L148.84 49.66 L149.26 49.66 L149.67 49.66 L150.09 49.66 L150.51 49.66 L150.92 49.66 L151.34 49.66 L151.76 49.66 L152.17 49.66 L152.59 49.66 L153.01 49.66 L153.42 49.66 L153.84 49.66 L154.26 49.66 L154.67 49.66 L155.09 49.66 L155.50 49.66 L155.92 49.66 L156.34 49.66 L156.75 49.66 L157.17 49.66 L157.59 49.66 L158.00 49.66 L158.42 49.66 L158.84 49.66 L159.25 49.66 L159.67 49.66 L160.09 49.66 L160.50 49.66 L160.92 49.66 L161.34 49.66 L161.75 49.66 L162.17 49.66 L162.59 49.66 L163.00 49.66 L163.42 49.66 L163.84 49.66 L164.25 49.66 L164.67 49.66 L165.08 49.66 L165.50 49.66 L165.92 49.66 L166.33 49.66 L166.75 49.66 L167.17 49.66 L167.58 49.66 L168.00 49.66 L168.42 49.66 L168.83 49.66 L169.25 49.66 L169.67 49.66 L170.08 49.66 L170.50 49.66 L170.92 49.66 L171.33 49.66 L171.75 49.66 L172.17 49.66 L172.58 49.66 L173.00 49.66 L173.41 49.66 L173.83 49.66 L174.25 49.66 L174.66 49.66 L175.08 49.66 L175.50 49.66 L175.91 49.66 L176.33 49.66 L176.75 49.66 L177.16 49.66 L177.58 49.66 L178.00 49.66 L178.41 49.66 L178.83 49.66 L179.25 49.66 L179.66 49.66 L180.08 49.67 L180.50 49.67 L180.91 49.67 L181.33 49.68 L181.74 49.68 L182.16 49.68 L182.58 49.69 L182.99 49.70 L183.41 49.71 L183.83 49.72 L184.24 49.73 L184.66 49.75 L185.08 49.77 L185.49 49.79 L185.91 49.82 L186.33 49.85 L186.74 49.89 L187.16 49.94 L187.58 50.00 L187.99 50.07 L188.41 50.16 L188.82 50.26 L189.24 50.39 L189.66 50.54 L190.07 50.73 L190.49 50.95 L190.91 51.22 L191.32 51.54 L191.74 51.94 L192.16 52.41 L192.57 52.98 L192.99 53.67 L193.41 54.56 L193.82 55.65" stroke="#000000" stroke-width="1.2" stroke-opacity="0.9" fill="none" stroke-linejoin="round"/>
<path d="M193.82 55.65 L194.24 56.98 L194.66 58.61 L195.07 60.59 L195.49 62.82 L195.91 65.51 L196.32 68.74 L196.74 72.64 L197.16 77.33 L197.57 82.84 L197.99 89.46 L198.40 97.40 L198.82 106.92 L199.24 118.33 L199.65 131.90 L199.67 132.50" stroke="#000000" stroke-width="1.2" stroke-opacity="0.95" fill="none" stroke-linejoin="round"/>
<path d="M84.70 58.32 L85.12 58.32 L85.53 58.32 L85.95 58.32 L86.37 58.32 L86.78 58.32 L87.20 58.32 L87.62 58.32 L88.03 58.32 L88.45 58.32 L88.87 58.32 L89.28 58.32 L89.70 58.32 L90.11 58.32 L90.53 58.32 L90.95 58.32 L91.36 58.32 L91.78 58.32 L92.20 58.32 L92.61 58.32 L93.03 58.32 L93.45 58.32 L93.86 58.32 L94.28 58.32 L94.70 58.32 L95.11 58.32 L95.53 58.32 L95.95 58.32 L96.36 58.32 L96.78 58.32 L97.20 58.32 L97.61 58.32 L98.03 58.32 L98.44 58.32 L98.86 58.32 L99.28 58.32 L99.69 58.32 L100.11 58.32 L100.53 58.32 L100.94 58.32 L101.36 58.32 L101.78 58.32 L102.19 58.32 L102.61 58.32 L103.03 58.32 L103.44 58.32 L103.86 58.32 L104.28 58.32 L104.69 58.32 L105.11 58.32 L105.53 58.32 L105.94 58.32 L106.36 58.32 L106.77 58.32 L107.19 58.32 L107.61 58.32 L108.02 58.32 L108.44 58.32 L108.86 58.32 L109.27 58.32 L109.69 58.32 L110.11 58.32 L110.52 58.32 L110.94 58.32 L111.36 58.32 L111.77 58.32 L112.19 58.32 L112.61 58.32 L113.02 58.32 L113.44 58.32 L113.86 58.32 L114.27 58.32 L114.69 58.32 L115.10 58.32 L115.52 58.32 L115.94 58.32 L116.35 58.32 L116.77 58.32 L117.19 58.32 L117.60 58.32 L118.02 58.32 L118.44 58.32 L118.85 58.32 L119.27 58.32 L119.69 58.32 L120.10 58.32 L120.52 58.32 L120.94 58.32 L121.35 58.32 L121.77 58.32 L122.19 58.32 L122.60 58.32 L123.02 58.32 L123.43 58.32 L123.85 58.32 L124.27 58.32 L124.68 58.32 L125.10 58.32 L125.52 58.32 L125.93 58.32 L126.35 58.32 L126.77 58.32 L127.18 58.32 L127.60 58.32 L128.02 58.32 L128.43 58.32 L128.85 58.32 L129.27 58.32 L129.68 58.32 L130.10 58.32 L130.52 58.32 L130.93 58.32 L131.35 58.32 L131.76 58.32 L132.18 58.32 L132.60 58.32 L133.01 58.32 L133.43 58.32 L133.85 58.32 L134.26 58.32 L134.68 58.32 L135.10 58.32 L135.51 58.32 L135.93 58.32 L136.35 58.32 L136.76 58.32 L137.18 58.32 L137.60 58.32 L138.01 58.32 L138.43 58.32 L138.84 58.32 L139.26 58.32 L139.68 58.32 L140.09 58.32 L140.51 58.32 L140.93 58.32 L141.34 58.32 L141.76 58.32 L142.18 58.32 L142.59 58.32 L143.01 58.32 L143.43 58.32 L143.84 58.32 L144.26 58.32 L144.68 58.32 L145.09 58.32 L145.51 58.32 L145.93 58.32 L146.34 58.32 L146.76 58.32 L147.18 58.32 L147.59 58.32 L148.01 58.32 L148.42 58.32 L148.84 58.32 L149.26 58.32 L149.67 58.32 L150.09 58.32 L150.51 58.32 L150.92 58.32 L151.34 58.32 L151.76 58.32 L152.17 58.32 L152.59 58.32 L153.01 58.32 L153.42 58.32 L153.84 58.32 L154.26 58.32 L154.67 58.32 L155.09 58.32 L155.50 58.32 L155.92 58.32 L156.34 58.32 L156.75 58.32 L157.17 58.32 L157.59 58.32 L158.00 58.32 L158.42 58.32 L158.84 58.32 L159.25 58.32 L159.67 58.32 L160.09 58.32 L160.50 58.32 L160.92 58.32 L161.34 58.32 L161.75 58.32 L162.17 58.32 L162.59 58.32 L163.00 58.32 L163.42 58.32 L163.84 58.32 L164.25 58.32 L164.67 58.32 L165.08 58.32 L165.50 58.32 L165.92 58.32 L166.33 58.32 L166.75 58.32 L167.17 58.32 L167.58 58.32 L168.00 58.32 L168.42 58.32 L168.83 58.32 L169.25 58.32 L169.67 58.32 L170.08 58.32 L170.50 58.32 L170.92 58.32 L171.33 58.32 L171.75 58.32 L172.17 58.32 L172.58 58.32 L173.00 58.32 L173.41 58.32 L173.83 58.32 L174.25 58.32 L174.66 58.32 L175.08 58.32 L175.50 58.32 L175.91 58.32 L176.33 58.32 L176.75 58.32 L177.16 58.32 L177.58 58.32 L178.00 58.32 L178.41 58.32 L178.83 58.32 L179.25 58.32 L179.66 58.33 L180.08 58.33 L180.50 58.33 L180.91 58.33 L181.33 58.34 L181.74 58.34 L182.16 58.34 L182.58 58.35 L182.99 58.36 L183.41 58.36 L183.83 58.37 L184.24 58.39 L184.66 58.40 L185.08 58.42 L185.49 58.44 L185.91 58.46 L186.33 58.49 L186.74 58.53 L187.16 58.57 L187.58 58.63 L187.99 58.69 L188.41 58.77 L188.82 58.86 L189.24 58.98 L189.66 59.11 L190.07 59.28 L190.49 59.48 L190.91 59.72 L191.32 60.01 L191.74 60.36 L192.16 60.78 L192.57 61.30 L192.99 61.91 L193.41 62.71 L193.82 63.69" stroke="#996633" stroke-width="1.2" stroke-opacity="0.68" fill="none" stroke-linejoin="round"/>
<path d="M193.82 63.69 L194.24 64.88 L194.66 66.33 L195.07 68.11 L195.49 70.11 L195.91 72.51 L196.32 75.41 L196.74 78.90 L197.16 83.09 L197.57 88.03 L197.99 93.96 L198.40 101.07 L198.82 109.59 L199.24 119.81 L199.65 131.97 L199.67 132.50" stroke="#996633" stroke-width="1.2" stroke-opacity="0.95" fill="none" stroke-linejoin="round"/>
<path d="M84.70 65.25 L85.12 65.25 L85.53 65.25 L85.95 65.25 L86.37 65.25 L86.78 65.25 L87.20 65.25 L87.62 65.25 L88.03 65.25 L88.45 65.25 L88.87 65.25 L89.28 65.25 L89.70 65.25 L90.11 65.25 L90.53 65.25 L90.95 65.25 L91.36 65.25 L91.78 65.25 L92.20 65.25 L92.61 65.25 L93.03 65.25 L93.45 65.25 L93.86 65.25 L94.28 65.25 L94.70 65.25 L95.11 65.25 L95.53 65.25 L95.95 65.25 L96.36 65.25 L96.78 65.25 L97.20 65.25 L97.61 65.25 L98.03 65.25 L98.44 65.25 L98.86 65.25 L99.28 65.25 L99.69 65.25 L100.11 65.25 L100.53 65.25 L100.94 65.25 L101.36 65.25 L101.78 65.25 L102.19 65.25 L102.61 65.25 L103.03 65.25 L103.44 65.25 L103.86 65.25 L104.28 65.25 L104.69 65.25 L105.11 65.25 L105.53 65.25 L105.94 65.25 L106.36 65.25 L106.77 65.25 L107.19 65.25 L107.61 65.25 L108.02 65.25 L108.44 65.25 L108.86 65.25 L109.27 65.25 L109.69 65.25 L110.11 65.25 L110.52 65.25 L110.94 65.25 L111.36 65.25 L111.77 65.25 L112.19 65.25 L112.61 65.25 L113.02 65.25 L113.44 65.25 L113.86 65.25 L114.27 65.25 L114.69 65.25 L115.10 65.25 L115.52 65.25 L115.94 65.25 L116.35 65.25 L116.77 65.25 L117.19 65.25 L117.60 65.25 L118.02 65.25 L118.44 65.25 L118.85 65.25 L119.27 65.25 L119.69 65.25 L120.10 65.25 L120.52 65.25 L120.94 65.25 L121.35 65.25 L121.77 65.25 L122.19 65.25 L122.60 65.25 L123.02 65.25 L123.43 65.25 L123.85 65.25 L124.27 65.25 L124.68 65.25 L125.10 65.25 L125.52 65.25 L125.93 65.25 L126.35 65.25 L126.77 65.25 L127.18 65.25 L127.60 65.25 L128.02 65.25 L128.43 65.25 L128.85 65.25 L129.27 65.25 L129.68 65.25 L130.10 65.25 L130.52 65.25 L130.93 65.25 L131.35 65.25 L131.76 65.25 L132.18 65.25 L132.60 65.25 L133.01 65.25 L133.43 65.25 L133.85 65.25 L134.26 65.25 L134.68 65.25 L135.10 65.25 L135.51 65.25 L135.93 65.25 L136.35 65.25 L136.76 65.25 L137.18 65.25 L137.60 65.25 L138.01 65.25 L138.43 65.25 L138.84 65.25 L139.26 65.25 L139.68 65.25 L140.09 65.25 L140.51 65.25 L140.93 65.25 L141.34 65.25 L141.76 65.25 L142.18 65.25 L142.59 65.25 L143.01 65.25 L143.43 65.25 L143.84 65.25 L144.26 65.25 L144.68 65.25 L145.09 65.25 L145.51 65.25 L145.93 65.25 L146.34 65.25 L146.76 65.25 L147.18 65.25 L147.59 65.25 L148.01 65.25 L148.42 65.25 L148.84 65.25 L149.26 65.25 L149.67 65.25 L150.09 65.25 L150.51 65.25 L150.92 65.25 L151.34 65.25 L151.76 65.25 L152.17 65.25 L152.59 65.25 L153.01 65.25 L153.42 65.25 L153.84 65.25 L154.26 65.25 L154.67 65.25 L155.09 65.25 L155.50 65.25 L155.92 65.25 L156.34 65.25 L156.75 65.25 L157.17 65.25 L157.59 65.25 L158.00 65.25 L158.42 65.25 L158.84 65.25 L159.25 65.25 L159.67 65.25 L160.09 65.25 L160.50 65.25 L160.92 65.25 L161.34 65.25 L161.75 65.25 L162.17 65.25 L162.59 65.25 L163.00 65.25 L163.42 65.25 L163.84 65.25 L164.25 65.25 L164.67 65.25 L165.08 65.25 L165.50 65.25 L165.92 65.25 L166.33 65.25 L166.75 65.25 L167.17 65.25 L167.58 65.25 L168.00 65.25 L168.42 65.25 L168.83 65.25 L169.25 65.25 L169.67 65.25 L170.08 65.25 L170.50 65.25 L170.92 65.25 L171.33 65.25 L171.75 65.25 L172.17 65.25 L172.58 65.25 L173.00 65.25 L173.41 65.25 L173.83 65.25 L174.25 65.25 L174.66 65.25 L175.08 65.25 L175.50 65.25 L175.91 65.25 L176.33 65.25 L176.75 65.25 L177.16 65.25 L177.58 65.25 L178.00 65.25 L178.41 65.25 L178.83 65.25 L179.25 65.25 L179.66 65.26 L180.08 65.26 L180.50 65.26 L180.91 65.26 L181.33 65.26 L181.74 65.27 L182.16 65.27 L182.58 65.28 L182.99 65.28 L183.41 65.29 L183.83 65.30 L184.24 65.31 L184.66 65.32 L185.08 65.34 L185.49 65.36 L185.91 65.38 L186.33 65.41 L186.74 65.44 L187.16 65.48 L187.58 65.53 L187.99 65.59 L188.41 65.66 L188.82 65.74 L189.24 65.84 L189.66 65.97 L190.07 66.12 L190.49 66.30 L190.91 66.52 L191.32 66.78 L191.74 67.10 L192.16 67.48 L192.57 67.95 L192.99 68.51 L193.41 69.23 L193.82 70.12" stroke="#00ff00" stroke-width="1.2" stroke-opacity="0.68" fill="none" stroke-linejoin="round"/>
<path d="M193.82 70.12 L194.24 71.19 L194.66 72.51 L195.07 74.12 L195.49 75.94 L195.91 78.12 L196.32 80.74 L196.74 83.90 L197.16 87.71 L197.57 92.19 L197.99 97.56 L198.40 104.00 L198.82 111.73 L199.24 121.00 L199.65 132.02 L199.67 132.50" stroke="#00ff00" stroke-width="1.2" stroke-opacity="0.95" fill="none" stroke-linejoin="round"/>
<path d="M84.70 70.92 L85.12 70.92 L85.53 70.92 L85.95 70.92 L86.37 70.92 L86.78 70.92 L87.20 70.92 L87.62 70.92 L88.03 70.92 L88.45 70.92 L88.87 70.92 L89.28 70.92 L89.70 70.92 L90.11 70.92 L90.53 70.92 L90.95 70.92 L91.36 70.92 L91.78 70.92 L92.20 70.92 L92.61 70.92 L93.03 70.92 L93.45 70.92 L93.86 70.92 L94.28 70.92 L94.70 70.92 L95.11 70.92 L95.53 70.92 L95.95 70.92 L96.36 70.92 L96.78 70.92 L97.20 70.92 L97.61 70.92 L98.03 70.92 L98.44 70.92 L98.86 70.92 L99.28 70.92 L99.69 70.92 L100.11 70.92 L100.53 70.92 L100.94 70.92 L101.36 70.92 L101.78 70.92 L102.19 70.92 L102.61 70.92 L103.03 70.92 L103.44 70.92 L103.86 70.92 L104.28 70.92 L104.69 70.92 L105.11 70.92 L105.53 70.92 L105.94 70.92 L106.36 70.92 L106.77 70.92 L107.19 70.92 L107.61 70.92 L108.02 70.92 L108.44 70.92 L108.86 70.92 L109.27 70.92 L109.69 70.92 L110.11 70.92 L110.52 70.92 L110.94 70.92 L111.36 70.92 L111.77 70.92 L112.19 70.92 L112.61 70.92 L113.02 70.92 L113.44 70.92 L113.86 70.92 L114.27 70.92 L114.69 70.92 L115.10 70.92 L115.52 70.92 L115.94 70.92 L116.35 70.92 L116.77 70.92 L117.19 70.92 L117.60 70.92 L118.02 70.92 L118.44 70.92 L118.85 70.92 L119.27 70.92 L119.69 70.92 L120.10 70.92 L120.52 70.92 L120.94 70.92 L121.35 70.92 L121.77 70.92 L122.19 70.92 L122.60 70.92 L123.02 70.92 L123.43 70.92 L123.85 70.92 L124.27 70.92 L124.68 70.92 L125.10 70.92 L125.52 70.92 L125.93 70.92 L126.35 70.92 L126.77 70.92 L127.18 70.92 L127.60 70.92 L128.02 70.92 L128.43 70.92 L128.85 70.92 L129.27 70.92 L129.68 70.92 L130.10 70.92 L130.52 70.92 L130.93 70.92 L131.35 70.92 L131.76 70.92 L132.18 70.92 L132.60 70.92 L133.01 70.92 L133.43 70.92 L133.85 70.92 L134.26 70.92 L134.68 70.92 L135.10 70.92 L135.51 70.92 L135.93 70.92 L136.35 70.92 L136.76 70.92 L137.18 70.92 L137.60 70.92 L138.01 70.92 L138.43 70.92 L138.84 70.92 L139.26 70.92 L139.68 70.92 L140.09 70.92 L140.51 70.92 L140.93 70.92 L141.34 70.92 L141.76 70.92 L142.18 70.92 L142.59 70.92 L143.01 70.92 L143.43 70.92 L143.84 70.92 L144.26 70.92 L144.68 70.92 L145.09 70.92 L145.51 70.92 L145.93 70.92 L146.34 70.92 L146.76 70.92 L147.18 70.92 L147.59 70.92 L148.01 70.92 L148.42 70.92 L148.84 70.92 L149.26 70.92 L149.67 70.92 L150.09 70.92 L150.51 70.92 L150.92 70.92 L151.34 70.92 L151.76 70.92 L152.17 70.92 L152.59 70.92 L153.01 70.92 L153.42 70.92 L153.84 70.92 L154.26 70.92 L154.67 70.92 L155.09 70.92 L155.50 70.92 L155.92 70.92 L156.34 70.92 L156.75 70.92 L157.17 70.92 L157.59 70.92 L158.00 70.92 L158.42 70.92 L158.84 70.92 L159.25 70.92 L159.67 70.92 L160.09 70.92 L160.50 70.92 L160.92 70.92 L161.34 70.92 L161.75 70.92 L162.17 70.92 L162.59 70.92 L163.00 70.92 L163.42 70.92 L163.84 70.92 L164.25 70.92 L164.67 70.92 L165.08 70.92 L165.50 70.92 L165.92 70.92 L166.33 70.92 L166.75 70.92 L167.17 70.92 L167.58 70.92 L168.00 70.92 L168.42 70.92 L168.83 70.92 L169.25 70.92 L169.67 70.92 L170.08 70.92 L170.50 70.92 L170.92 70.92 L171.33 70.92 L171.75 70.92 L172.17 70.92 L172.58 70.92 L173.00 70.92 L173.41 70.92 L173.83 70.92 L174.25 70.92 L174.66 70.92 L175.08 70.92 L175.50 70.92 L175.91 70.92 L176.33 70.92 L176.75 70.92 L177.16 70.92 L177.58 70.92 L178.00 70.92 L178.41 70.92 L178.83 70.92 L179.25 70.92 L179.66 70.92 L180.08 70.93 L180.50 70.93 L180.91 70.93 L181.33 70.93 L181.74 70.94 L182.16 70.94 L182.58 70.94 L182.99 70.95 L183.41 70.96 L183.83 70.96 L184.24 70.97 L184.66 70.99 L185.08 71.00 L185.49 71.02 L185.91 71.04 L186.33 71.06 L186.74 71.09 L187.16 71.13 L187.58 71.17 L187.99 71.23 L188.41 71.29 L188.82 71.37 L189.24 71.46 L189.66 71.58 L190.07 71.71 L190.49 71.88 L190.91 72.08 L191.32 72.32 L191.74 72.61 L192.16 72.96 L192.57 73.39 L192.99 73.90 L193.41 74.57 L193.82 75.37" stroke="#800080" stroke-width="1.2" stroke-opacity="0.68" fill="none" stroke-linejoin="round"/>
<path d="M193.82 75.37 L194.24 76.36 L194.66 77.57 L195.07 79.05 L195.49 80.70 L195.91 82.70 L196.32 85.11 L196.74 88.00 L197.16 91.49 L197.57 95.59 L197.99 100.51 L198.40 106.41 L198.82 113.48 L199.24 121.97 L199.65 132.06 L199.67 132.50" stroke="#800080" stroke-width="1.2" stroke-opacity="0.95" fill="none" stroke-linejoin="round"/>
<g fill="#ff0000"><circle cx="84.70" cy="24.93" r="0.75" fill-opacity="0.75"/><circle cx="86.78" cy="24.93" r="0.75" fill-opacity="0.75"/><circle cx="88.87" cy="24.93" r="0.75" fill-opacity="0.75"/><circle cx="90.95" cy="24.93" r="0.75" fill-opacity="0.75"/><circle cx="93.03" cy="24.93" r="0.75" fill-opacity="0.75"/><circle cx="95.11" cy="24.93" r="0.75" fill-opacity="0.75"/><circle cx="97.20" cy="24.93" r="0.75" fill-opacity="0.75"/><circle cx="99.28" cy="24.93" r="0.75" fill-opacity="0.75"/><circle cx="101.36" cy="24.93" r="0.75" fill-opacity="0.75"/><circle cx="103.44" cy="24.93" r="0.75" fill-opacity="0.75"/><circle cx="105.53" cy="24.93" r="0.75" fill-opacity="0.75"/><circle cx="107.61" cy="24.93" r="0.75" fill-opacity="0.75"/><circle cx="109.69" cy="24.93" r="0.75" fill-opacity="0.75"/><circle cx="111.77" cy="24.93" r="0.75" fill-opacity="0.75"/><circle cx="113.86" cy="24.93" r="0.75" fill-opacity="0.75"/><circle cx="115.94" cy="24.93" r="0.75" fill-opacity="0.75"/><circle cx="118.02" cy="24.93" r="0.75" fill-opacity="0.75"/><circle cx="120.10" cy="24.93" r="0.75" fill-opacity="0.75"/><circle cx="122.19" cy="24.93" r="0.75" fill-opacity="0.75"/><circle cx="124.27" cy="24.93" r="0.75" fill-opacity="0.75"/><circle cx="126.35" cy="24.93" r="0.75" fill-opacity="0.75"/><circle cx="128.43" cy="24.93" r="0.75" fill-opacity="0.75"/><circle cx="130.52" cy="24.93" r="0.75" fill-opacity="0.75"/><circle cx="132.60" cy="24.93" r="0.75" fill-opacity="0.75"/><circle cx="134.68" cy="24.93" r="0.75" fill-opacity="0.75"/><circle cx="136.76" cy="24.93" r="0.75" fill-opacity="0.75"/><circle cx="138.84" cy="24.93" r="0.75" fill-opacity="0.75"/><circle cx="140.93" cy="24.93" r="0.75" fill-opacity="0.75"/><circle cx="143.01" cy="24.93" r="0.75" fill-opacity="0.75"/><circle cx="145.09" cy="24.93" r="0.75" fill-opacity="0.75"/><circle cx="147.18" cy="24.93" r="0.75" fill-opacity="0.75"/><circle cx="149.26" cy="24.93" r="0.75" fill-opacity="0.75"/><circle cx="151.34" cy="24.93" r="0.75" fill-opacity="0.75"/><circle cx="153.42" cy="24.93" r="0.75" fill-opacity="0.75"/><circle cx="155.50" cy="24.93" r="0.75" fill-opacity="0.75"/><circle cx="157.59" cy="24.93" r="0.75" fill-opacity="0.75"/><circle cx="159.67" cy="24.93" r="0.75" fill-opacity="0.75"/><circle cx="161.75" cy="24.93" r="0.75" fill-opacity="0.75"/><circle cx="163.84" cy="24.93" r="0.75" fill-opacity="0.75"/><circle cx="165.92" cy="24.93" r="0.75" fill-opacity="0.75"/><circle cx="168.00" cy="24.93" r="0.75" fill-opacity="0.75"/><circle cx="170.08" cy="24.93" r="0.75" fill-opacity="0.75"/><circle cx="172.17" cy="24.93" r="0.75" fill-opacity="0.75"/><circle cx="174.25" cy="24.93" r="0.75" fill-opacity="0.75"/><circle cx="176.33" cy="24.93" r="0.75" fill-opacity="0.75"/><circle cx="178.41" cy="24.93" r="0.75" fill-opacity="0.75"/><circle cx="180.50" cy="24.95" r="0.75" fill-opacity="0.75"/><circle cx="182.58" cy="24.97" r="0.75" fill-opacity="0.75"/><circle cx="184.66" cy="25.05" r="0.75" fill-opacity="0.75"/><circle cx="186.74" cy="25.24" r="0.75" fill-opacity="0.75"/><circle cx="188.82" cy="25.72" r="0.75" fill-opacity="0.75"/><circle cx="190.91" cy="26.96" r="0.75" fill-opacity="0.75"/><circle cx="192.99" cy="30.14" r="0.75" fill-opacity="0.75"/><circle cx="195.07" cy="39.13" r="0.75" fill-opacity="0.75"/><circle cx="197.16" cy="60.86" r="0.75" fill-opacity="0.75"/><circle cx="199.24" cy="114.11" r="0.75" fill-opacity="0.75"/></g>
<g fill="#0000ff"><circle cx="84.70" cy="38.87" r="0.75" fill-opacity="0.75"/><circle cx="86.78" cy="38.87" r="0.75" fill-opacity="0.75"/><circle cx="88.87" cy="38.87" r="0.75" fill-opacity="0.75"/><circle cx="90.95" cy="38.87" r="0.75" fill-opacity="0.75"/><circle cx="93.03" cy="38.87" r="0.75" fill-opacity="0.75"/><circle cx="95.11" cy="38.87" r="0.75" fill-opacity="0.75"/><circle cx="97.20" cy="38.87" r="0.75" fill-opacity="0.75"/><circle cx="99.28" cy="38.87" r="0.75" fill-opacity="0.75"/><circle cx="101.36" cy="38.87" r="0.75" fill-opacity="0.75"/><circle cx="103.44" cy="38.87" r="0.75" fill-opacity="0.75"/><circle cx="105.53" cy="38.87" r="0.75" fill-opacity="0.75"/><circle cx="107.61" cy="38.87" r="0.75" fill-opacity="0.75"/><circle cx="109.69" cy="38.87" r="0.75" fill-opacity="0.75"/><circle cx="111.77" cy="38.87" r="0.75" fill-opacity="0.75"/><circle cx="113.86" cy="38.87" r="0.75" fill-opacity="0.75"/><circle cx="115.94" cy="38.87" r="0.75" fill-opacity="0.75"/><circle cx="118.02" cy="38.87" r="0.75" fill-opacity="0.75"/><circle cx="120.10" cy="38.87" r="0.75" fill-opacity="0.75"/><circle cx="122.19" cy="38.87" r="0.75" fill-opacity="0.75"/><circle cx="124.27" cy="38.87" r="0.75" fill-opacity="0.75"/><circle cx="126.35" cy="38.87" r="0.75" fill-opacity="0.75"/><circle cx="128.43" cy="38.87" r="0.75" fill-opacity="0.75"/><circle cx="130.52" cy="38.87" r="0.75" fill-opacity="0.75"/><circle cx="132.60" cy="38.87" r="0.75" fill-opacity="0.75"/><circle cx="134.68" cy="38.87" r="0.75" fill-opacity="0.75"/><circle cx="136.76" cy="38.87" r="0.75" fill-opacity="0.75"/><circle cx="138.84" cy="38.87" r="0.75" fill-opacity="0.75"/><circle cx="140.93" cy="38.87" r="0.75" fill-opacity="0.75"/><circle cx="143.01" cy="38.87" r="0.75" fill-opacity="0.75"/><circle cx="145.09" cy="38.87" r="0.75" fill-opacity="0.75"/><circle cx="147.18" cy="38.87" r="0.75" fill-opacity="0.75"/><circle cx="149.26" cy="38.87" r="0.75" fill-opacity="0.75"/><circle cx="151.34" cy="38.87" r="0.75" fill-opacity="0.75"/><circle cx="153.42" cy="38.87" r="0.75" fill-opacity="0.75"/><circle cx="155.50" cy="38.87" r="0.75" fill-opacity="0.75"/><circle cx="157.59" cy="38.87" r="0.75" fill-opacity="0.75"/><circle cx="159.67" cy="38.87" r="0.75" fill-opacity="0.75"/><circle cx="161.75" cy="38.87" r="0.75" fill-opacity="0.75"/><circle cx="163.84" cy="38.87" r="0.75" fill-opacity="0.75"/><circle cx="165.92" cy="38.87" r="0.75" fill-opacity="0.75"/><circle cx="168.00" cy="38.87" r="0.75" fill-opacity="0.75"/><circle cx="170.08" cy="38.87" r="0.75" fill-opacity="0.75"/><circle cx="172.17" cy="38.87" r="0.75" fill-opacity="0.75"/><circle cx="174.25" cy="38.87" r="0.75" fill-opacity="0.75"/><circle cx="176.33" cy="38.87" r="0.75" fill-opacity="0.75"/><circle cx="178.41" cy="38.87" r="0.75" fill-opacity="0.75"/><circle cx="180.50" cy="38.88" r="0.75" fill-opacity="0.75"/><circle cx="182.58" cy="38.91" r="0.75" fill-opacity="0.75"/><circle cx="184.66" cy="38.97" r="0.75" fill-opacity="0.75"/><circle cx="186.74" cy="39.13" r="0.75" fill-opacity="0.75"/><circle cx="188.82" cy="39.55" r="0.75" fill-opacity="0.75"/><circle cx="190.91" cy="40.63" r="0.75" fill-opacity="0.75"/><circle cx="192.99" cy="43.41" r="0.75" fill-opacity="0.75"/><circle cx="195.07" cy="51.23" r="0.75" fill-opacity="0.75"/><circle cx="197.16" cy="70.14" r="0.75" fill-opacity="0.75"/><circle cx="199.24" cy="116.49" r="0.75" fill-opacity="0.75"/></g>
<g fill="#000000"><circle cx="84.70" cy="49.66" r="0.75" fill-opacity="0.75"/><circle cx="86.78" cy="49.66" r="0.75" fill-opacity="0.75"/><circle cx="88.87" cy="49.66" r="0.75" fill-opacity="0.75"/><circle cx="90.95" cy="49.66" r="0.75" fill-opacity="0.75"/><circle cx="93.03" cy="49.66" r="0.75" fill-opacity="0.75"/><circle cx="95.11" cy="49.66" r="0.75" fill-opacity="0.75"/><circle cx="97.20" cy="49.66" r="0.75" fill-opacity="0.75"/><circle cx="99.28" cy="49.66" r="0.75" fill-opacity="0.75"/><circle cx="101.36" cy="49.66" r="0.75" fill-opacity="0.75"/><circle cx="103.44" cy="49.66" r="0.75" fill-opacity="0.75"/><circle cx="105.53" cy="49.66" r="0.75" fill-opacity="0.75"/><circle cx="107.61" cy="49.66" r="0.75" fill-opacity="0.75"/><circle cx="109.69" cy="49.66" r="0.75" fill-opacity="0.75"/><circle cx="111.77" cy="49.66" r="0.75" fill-opacity="0.75"/><circle cx="113.86" cy="49.66" r="0.75" fill-opacity="0.75"/><circle cx="115.94" cy="49.66" r="0.75" fill-opacity="0.75"/><circle cx="118.02" cy="49.66" r="0.75" fill-opacity="0.75"/><circle cx="120.10" cy="49.66" r="0.75" fill-opacity="0.75"/><circle cx="122.19" cy="49.66" r="0.75" fill-opacity="0.75"/><circle cx="124.27" cy="49.66" r="0.75" fill-opacity="0.75"/><circle cx="126.35" cy="49.66" r="0.75" fill-opacity="0.75"/><circle cx="128.43" cy="49.66" r="0.75" fill-opacity="0.75"/><circle cx="130.52" cy="49.66" r="0.75" fill-opacity="0.75"/><circle cx="132.60" cy="49.66" r="0.75" fill-opacity="0.75"/><circle cx="134.68" cy="49.66" r="0.75" fill-opacity="0.75"/><circle cx="136.76" cy="49.66" r="0.75" fill-opacity="0.75"/><circle cx="138.84" cy="49.66" r="0.75" fill-opacity="0.75"/><circle cx="140.93" cy="49.66" r="0.75" fill-opacity="0.75"/><circle cx="143.01" cy="49.66" r="0.75" fill-opacity="0.75"/><circle cx="145.09" cy="49.66" r="0.75" fill-opacity="0.75"/><circle cx="147.18" cy="49.66" r="0.75" fill-opacity="0.75"/><circle cx="149.26" cy="49.66" r="0.75" fill-opacity="0.75"/><circle cx="151.34" cy="49.66" r="0.75" fill-opacity="0.75"/><circle cx="153.42" cy="49.66" r="0.75" fill-opacity="0.75"/><circle cx="155.50" cy="49.66" r="0.75" fill-opacity="0.75"/><circle cx="157.59" cy="49.66" r="0.75" fill-opacity="0.75"/><circle cx="159.67" cy="49.66" r="0.75" fill-opacity="0.75"/><circle cx="161.75" cy="49.66" r="0.75" fill-opacity="0.75"/><circle cx="163.84" cy="49.66" r="0.75" fill-opacity="0.75"/><circle cx="165.92" cy="49.66" r="0.75" fill-opacity="0.75"/><circle cx="168.00" cy="49.66" r="0.75" fill-opacity="0.75"/><circle cx="170.08" cy="49.66" r="0.75" fill-opacity="0.75"/><circle cx="172.17" cy="49.66" r="0.75" fill-opacity="0.75"/><circle cx="174.25" cy="49.66" r="0.75" fill-opacity="0.75"/><circle cx="176.33" cy="49.66" r="0.75" fill-opacity="0.75"/><circle cx="178.41" cy="49.66" r="0.75" fill-opacity="0.75"/><circle cx="180.50" cy="49.67" r="0.75" fill-opacity="0.75"/><circle cx="182.58" cy="49.69" r="0.75" fill-opacity="0.75"/><circle cx="184.66" cy="49.75" r="0.75" fill-opacity="0.75"/><circle cx="186.74" cy="49.89" r="0.75" fill-opacity="0.75"/><circle cx="188.82" cy="50.26" r="0.75" fill-opacity="0.75"/><circle cx="190.91" cy="51.22" r="0.75" fill-opacity="0.75"/><circle cx="192.99" cy="53.67" r="0.75" fill-opacity="0.75"/><circle cx="195.07" cy="60.59" r="0.75" fill-opacity="0.75"/><circle cx="197.16" cy="77.33" r="0.75" fill-opacity="0.75"/><circle cx="199.24" cy="118.33" r="0.75" fill-opacity="0.75"/></g>
<g fill="#996633"><circle cx="84.70" cy="58.32" r="0.75" fill-opacity="0.75"/><circle cx="86.78" cy="58.32" r="0.75" fill-opacity="0.75"/><circle cx="88.87" cy="58.32" r="0.75" fill-opacity="0.75"/><circle cx="90.95" cy="58.32" r="0.75" fill-opacity="0.75"/><circle cx="93.03" cy="58.32" r="0.75" fill-opacity="0.75"/><circle cx="95.11" cy="58.32" r="0.75" fill-opacity="0.75"/><circle cx="97.20" cy="58.32" r="0.75" fill-opacity="0.75"/><circle cx="99.28" cy="58.32" r="0.75" fill-opacity="0.75"/><circle cx="101.36" cy="58.32" r="0.75" fill-opacity="0.75"/><circle cx="103.44" cy="58.32" r="0.75" fill-opacity="0.75"/><circle cx="105.53" cy="58.32" r="0.75" fill-opacity="0.75"/><circle cx="107.61" cy="58.32" r="0.75" fill-opacity="0.75"/><circle cx="109.69" cy="58.32" r="0.75" fill-opacity="0.75"/><circle cx="111.77" cy="58.32" r="0.75" fill-opacity="0.75"/><circle cx="113.86" cy="58.32" r="0.75" fill-opacity="0.75"/><circle cx="115.94" cy="58.32" r="0.75" fill-opacity="0.75"/><circle cx="118.02" cy="58.32" r="0.75" fill-opacity="0.75"/><circle cx="120.10" cy="58.32" r="0.75" fill-opacity="0.75"/><circle cx="122.19" cy="58.32" r="0.75" fill-opacity="0.75"/><circle cx="124.27" cy="58.32" r="0.75" fill-opacity="0.75"/><circle cx="126.35" cy="58.32" r="0.75" fill-opacity="0.75"/><circle cx="128.43" cy="58.32" r="0.75" fill-opacity="0.75"/><circle cx="130.52" cy="58.32" r="0.75" fill-opacity="0.75"/><circle cx="132.60" cy="58.32" r="0.75" fill-opacity="0.75"/><circle cx="134.68" cy="58.32" r="0.75" fill-opacity="0.75"/><circle cx="136.76" cy="58.32" r="0.75" fill-opacity="0.75"/><circle cx="138.84" cy="58.32" r="0.75" fill-opacity="0.75"/><circle cx="140.93" cy="58.32" r="0.75" fill-opacity="0.75"/><circle cx="143.01" cy="58.32" r="0.75" fill-opacity="0.75"/><circle cx="145.09" cy="58.32" r="0.75" fill-opacity="0.75"/><circle cx="147.18" cy="58.32" r="0.75" fill-opacity="0.75"/><circle cx="149.26" cy="58.32" r="0.75" fill-opacity="0.75"/><circle cx="151.34" cy="58.32" r="0.75" fill-opacity="0.75"/><circle cx="153.42" cy="58.32" r="0.75" fill-opacity="0.75"/><circle cx="155.50" cy="58.32" r="0.75" fill-opacity="0.75"/><circle cx="157.59" cy="58.32" r="0.75" fill-opacity="0.75"/><circle cx="159.67" cy="58.32" r="0.75" fill-opacity="0.75"/><circle cx="161.75" cy="58.32" r="0.75" fill-opacity="0.75"/><circle cx="163.84" cy="58.32" r="0.75" fill-opacity="0.75"/><circle cx="165.92" cy="58.32" r="0.75" fill-opacity="0.75"/><circle cx="168.00" cy="58.32" r="0.75" fill-opacity="0.75"/><circle cx="170.08" cy="58.32" r="0.75" fill-opacity="0.75"/><circle cx="172.17" cy="58.32" r="0.75" fill-opacity="0.75"/><circle cx="174.25" cy="58.32" r="0.75" fill-opacity="0.75"/><circle cx="176.33" cy="58.32" r="0.75" fill-opacity="0.75"/><circle cx="178.41" cy="58.32" r="0.75" fill-opacity="0.75"/><circle cx="180.50" cy="58.33" r="0.75" fill-opacity="0.75"/><circle cx="182.58" cy="58.35" r="0.75" fill-opacity="0.75"/><circle cx="184.66" cy="58.40" r="0.75" fill-opacity="0.75"/><circle cx="186.74" cy="58.53" r="0.75" fill-opacity="0.75"/><circle cx="188.82" cy="58.86" r="0.75" fill-opacity="0.75"/><circle cx="190.91" cy="59.72" r="0.75" fill-opacity="0.75"/><circle cx="192.99" cy="61.91" r="0.75" fill-opacity="0.75"/><circle cx="195.07" cy="68.11" r="0.75" fill-opacity="0.75"/><circle cx="197.16" cy="83.09" r="0.75" fill-opacity="0.75"/><circle cx="199.24" cy="119.81" r="0.75" fill-opacity="0.75"/></g>
<g fill="#00ff00"><circle cx="84.70" cy="65.25" r="0.75" fill-opacity="0.75"/><circle cx="86.78" cy="65.25" r="0.75" fill-opacity="0.75"/><circle cx="88.87" cy="65.25" r="0.75" fill-opacity="0.75"/><circle cx="90.95" cy="65.25" r="0.75" fill-opacity="0.75"/><circle cx="93.03" cy="65.25" r="0.75" fill-opacity="0.75"/><circle cx="95.11" cy="65.25" r="0.75" fill-opacity="0.75"/><circle cx="97.20" cy="65.25" r="0.75" fill-opacity="0.75"/><circle cx="99.28" cy="65.25" r="0.75" fill-opacity="0.75"/><circle cx="101.36" cy="65.25" r="0.75" fill-opacity="0.75"/><circle cx="103.44" cy="65.25" r="0.75" fill-opacity="0.75"/><circle cx="105.53" cy="65.25" r="0.75" fill-opacity="0.75"/><circle cx="107.61" cy="65.25" r="0.75" fill-opacity="0.75"/><circle cx="109.69" cy="65.25" r="0.75" fill-opacity="0.75"/><circle cx="111.77" cy="65.25" r="0.75" fill-opacity="0.75"/><circle cx="113.86" cy="65.25" r="0.75" fill-opacity="0.75"/><circle cx="115.94" cy="65.25" r="0.75" fill-opacity="0.75"/><circle cx="118.02" cy="65.25" r="0.75" fill-opacity="0.75"/><circle cx="120.10" cy="65.25" r="0.75" fill-opacity="0.75"/><circle cx="122.19" cy="65.25" r="0.75" fill-opacity="0.75"/><circle cx="124.27" cy="65.25" r="0.75" fill-opacity="0.75"/><circle cx="126.35" cy="65.25" r="0.75" fill-opacity="0.75"/><circle cx="128.43" cy="65.25" r="0.75" fill-opacity="0.75"/><circle cx="130.52" cy="65.25" r="0.75" fill-opacity="0.75"/><circle cx="132.60" cy="65.25" r="0.75" fill-opacity="0.75"/><circle cx="134.68" cy="65.25" r="0.75" fill-opacity="0.75"/><circle cx="136.76" cy="65.25" r="0.75" fill-opacity="0.75"/><circle cx="138.84" cy="65.25" r="0.75" fill-opacity="0.75"/><circle cx="140.93" cy="65.25" r="0.75" fill-opacity="0.75"/><circle cx="143.01" cy="65.25" r="0.75" fill-opacity="0.75"/><circle cx="145.09" cy="65.25" r="0.75" fill-opacity="0.75"/><circle cx="147.18" cy="65.25" r="0.75" fill-opacity="0.75"/><circle cx="149.26" cy="65.25" r="0.75" fill-opacity="0.75"/><circle cx="151.34" cy="65.25" r="0.75" fill-opacity="0.75"/><circle cx="153.42" cy="65.25" r="0.75" fill-opacity="0.75"/><circle cx="155.50" cy="65.25" r="0.75" fill-opacity="0.75"/><circle cx="157.59" cy="65.25" r="0.75" fill-opacity="0.75"/><circle cx="159.67" cy="65.25" r="0.75" fill-opacity="0.75"/><circle cx="161.75" cy="65.25" r="0.75" fill-opacity="0.75"/><circle cx="163.84" cy="65.25" r="0.75" fill-opacity="0.75"/><circle cx="165.92" cy="65.25" r="0.75" fill-opacity="0.75"/><circle cx="168.00" cy="65.25" r="0.75" fill-opacity="0.75"/><circle cx="170.08" cy="65.25" r="0.75" fill-opacity="0.75"/><circle cx="172.17" cy="65.25" r="0.75" fill-opacity="0.75"/><circle cx="174.25" cy="65.25" r="0.75" fill-opacity="0.75"/><circle cx="176.33" cy="65.25" r="0.75" fill-opacity="0.75"/><circle cx="178.41" cy="65.25" r="0.75" fill-opacity="0.75"/><circle cx="180.50" cy="65.26" r="0.75" fill-opacity="0.75"/><circle cx="182.58" cy="65.28" r="0.75" fill-opacity="0.75"/><circle cx="184.66" cy="65.32" r="0.75" fill-opacity="0.75"/><circle cx="186.74" cy="65.44" r="0.75" fill-opacity="0.75"/><circle cx="188.82" cy="65.74" r="0.75" fill-opacity="0.75"/><circle cx="190.91" cy="66.52" r="0.75" fill-opacity="0.75"/><circle cx="192.99" cy="68.51" r="0.75" fill-opacity="0.75"/><circle cx="195.07" cy="74.12" r="0.75" fill-opacity="0.75"/><circle cx="197.16" cy="87.71" r="0.75" fill-opacity="0.75"/><circle cx="199.24" cy="121.00" r="0.75" fill-opacity="0.75"/></g>
<g fill="#800080"><circle cx="84.70" cy="70.92" r="0.75" fill-opacity="0.75"/><circle cx="86.78" cy="70.92" r="0.75" fill-opacity="0.75"/><circle cx="88.87" cy="70.92" r="0.75" fill-opacity="0.75"/><circle cx="90.95" cy="70.92" r="0.75" fill-opacity="0.75"/><circle cx="93.03" cy="70.92" r="0.75" fill-opacity="0.75"/><circle cx="95.11" cy="70.92" r="0.75" fill-opacity="0.75"/><circle cx="97.20" cy="70.92" r="0.75" fill-opacity="0.75"/><circle cx="99.28" cy="70.92" r="0.75" fill-opacity="0.75"/><circle cx="101.36" cy="70.92" r="0.75" fill-opacity="0.75"/><circle cx="103.44" cy="70.92" r="0.75" fill-opacity="0.75"/><circle cx="105.53" cy="70.92" r="0.75" fill-opacity="0.75"/><circle cx="107.61" cy="70.92" r="0.75" fill-opacity="0.75"/><circle cx="109.69" cy="70.92" r="0.75" fill-opacity="0.75"/><circle cx="111.77" cy="70.92" r="0.75" fill-opacity="0.75"/><circle cx="113.86" cy="70.92" r="0.75" fill-opacity="0.75"/><circle cx="115.94" cy="70.92" r="0.75" fill-opacity="0.75"/><circle cx="118.02" cy="70.92" r="0.75" fill-opacity="0.75"/><circle cx="120.10" cy="70.92" r="0.75" fill-opacity="0.75"/><circle cx="122.19" cy="70.92" r="0.75" fill-opacity="0.75"/><circle cx="124.27" cy="70.92" r="0.75" fill-opacity="0.75"/><circle cx="126.35" cy="70.92" r="0.75" fill-opacity="0.75"/><circle cx="128.43" cy="70.92" r="0.75" fill-opacity="0.75"/><circle cx="130.52" cy="70.92" r="0.75" fill-opacity="0.75"/><circle cx="132.60" cy="70.92" r="0.75" fill-opacity="0.75"/><circle cx="134.68" cy="70.92" r="0.75" fill-opacity="0.75"/><circle cx="136.76" cy="70.92" r="0.75" fill-opacity="0.75"/><circle cx="138.84" cy="70.92" r="0.75" fill-opacity="0.75"/><circle cx="140.93" cy="70.92" r="0.75" fill-opacity="0.75"/><circle cx="143.01" cy="70.92" r="0.75" fill-opacity="0.75"/><circle cx="145.09" cy="70.92" r="0.75" fill-opacity="0.75"/><circle cx="147.18" cy="70.92" r="0.75" fill-opacity="0.75"/><circle cx="149.26" cy="70.92" r="0.75" fill-opacity="0.75"/><circle cx="151.34" cy="70.92" r="0.75" fill-opacity="0.75"/><circle cx="153.42" cy="70.92" r="0.75" fill-opacity="0.75"/><circle cx="155.50" cy="70.92" r="0.75" fill-opacity="0.75"/><circle cx="157.59" cy="70.92" r="0.75" fill-opacity="0.75"/><circle cx="159.67" cy="70.92" r="0.75" fill-opacity="0.75"/><circle cx="161.75" cy="70.92" r="0.75" fill-opacity="0.75"/><circle cx="163.84" cy="70.92" r="0.75" fill-opacity="0.75"/><circle cx="165.92" cy="70.92" r="0.75" fill-opacity="0.75"/><circle cx="168.00" cy="70.92" r="0.75" fill-opacity="0.75"/><circle cx="170.08" cy="70.92" r="0.75" fill-opacity="0.75"/><circle cx="172.17" cy="70.92" r="0.75" fill-opacity="0.75"/><circle cx="174.25" cy="70.92" r="0.75" fill-opacity="0.75"/><circle cx="176.33" cy="70.92" r="0.75" fill-opacity="0.75"/><circle cx="178.41" cy="70.92" r="0.75" fill-opacity="0.75"/><circle cx="180.50" cy="70.93" r="0.75" fill-opacity="0.75"/><circle cx="182.58" cy="70.94" r="0.75" fill-opacity="0.75"/><circle cx="184.66" cy="70.99" r="0.75" fill-opacity="0.75"/><circle cx="186.74" cy="71.09" r="0.75" fill-opacity="0.75"/><circle cx="188.82" cy="71.37" r="0.75" fill-opacity="0.75"/><circle cx="190.91" cy="72.08" r="0.75" fill-opacity="0.75"/><circle cx="192.99" cy="73.90" r="0.75" fill-opacity="0.75"/><circle cx="195.07" cy="79.05" r="0.75" fill-opacity="0.75"/><circle cx="197.16" cy="91.49" r="0.75" fill-opacity="0.75"/><circle cx="199.24" cy="121.97" r="0.75" fill-opacity="0.75"/></g>
<circle cx="199.67" cy="132.50" r="0.8" fill="#ff0000"/>
<path d="M118.70 29.23V34.57" stroke="#000" stroke-width="1"/><path d="M118.70 25.23l2.20 5.00h-4.40zM118.70 38.57l2.20 -5.00h-4.40z" fill="#000"/>
<path d="M126.60 42.43V46.09" stroke="#000" stroke-width="1"/><path d="M126.60 39.17l2.16 4.08h-4.32zM126.60 49.36l2.16 -4.08h-4.32z" fill="#000"/>
<path d="M135.30 52.53V55.44" stroke="#000" stroke-width="1"/><path d="M135.30 49.95l1.71 3.23h-3.42zM135.30 58.02l1.71 -3.23h-3.42z" fill="#000"/>
<path d="M143.70 60.64V62.92" stroke="#000" stroke-width="1"/><path d="M143.70 58.62l1.34 2.53h-2.68zM143.70 64.95l1.34 -2.53h-2.68z" fill="#000"/>
<path d="M151.30 67.17V69.00" stroke="#000" stroke-width="1"/><path d="M151.30 65.55l1.30 2.03h-2.60zM151.30 70.62l1.30 -2.03h-2.60z" fill="#000"/>
<path d="M282.2 198.10h7.4" stroke="#ff0000" stroke-width="0.8" stroke-opacity="0.2"/>
<circle cx="285.85" cy="198.10" r="2.1" fill="#ff0000"/>
<path d="M282.2 217.80h7.4" stroke="#0000ff" stroke-width="0.8" stroke-opacity="0.2"/>
<circle cx="285.85" cy="217.80" r="2.1" fill="#0000ff"/>
<path d="M282.2 237.50h7.4" stroke="#000000" stroke-width="0.8" stroke-opacity="0.2"/>
<circle cx="285.85" cy="237.50" r="2.1" fill="#000000"/>
<path d="M282.2 257.20h7.4" stroke="#996633" stroke-width="0.8" stroke-opacity="0.2"/>
<circle cx="285.85" cy="257.20" r="2.1" fill="#996633"/>
<path d="M282.2 276.90h7.4" stroke="#00ff00" stroke-width="0.8" stroke-opacity="0.2"/>
<circle cx="285.85" cy="276.90" r="2.1" fill="#00ff00"/>
<path d="M282.2 296.60h7.4" stroke="#800080" stroke-width="0.8" stroke-opacity="0.2"/>
<circle cx="285.85" cy="296.60" r="2.1" fill="#800080"/>
</svg>
<div id="L">
<div class="t" style="left:43.4px;top:311.29999999999995px;font-size:12.8px;font-family:'Liberation Sans',sans-serif;transform:translate(-100%,-50%);">0.00</div>
<div class="t" style="left:43.4px;top:250.7px;font-size:12.8px;font-family:'Liberation Sans',sans-serif;transform:translate(-100%,-50%);">0.02</div>
<div class="t" style="left:43.4px;top:190.1px;font-size:12.8px;font-family:'Liberation Sans',sans-serif;transform:translate(-100%,-50%);">0.04</div>
<div class="t" style="left:43.4px;top:129.5px;font-size:12.8px;font-family:'Liberation Sans',sans-serif;transform:translate(-100%,-50%);">0.06</div>
<div class="t" style="left:43.4px;top:68.89999999999998px;font-size:12.8px;font-family:'Liberation Sans',sans-serif;transform:translate(-100%,-50%);">0.08</div>
<div class="t" style="left:43.4px;top:8.899999999999977px;font-size:12.8px;font-family:'Liberation Sans',sans-serif;transform:translate(-100%,-50%);">0.10</div>
<div class="t" style="left:44.5px;top:319.0px;font-size:13px;font-family:'Liberation Sans',sans-serif;transform:translate(-50%,-50%);">0.0</div>
<div class="t" style="left:154.85px;top:319.0px;font-size:13px;font-family:'Liberation Sans',sans-serif;transform:translate(-50%,-50%);">0.5</div>
<div class="t" style="left:265.2px;top:319.0px;font-size:13px;font-family:'Liberation Sans',sans-serif;transform:translate(-50%,-50%);">1.0</div>
<div class="t" style="left:375.54999999999995px;top:319.0px;font-size:13px;font-family:'Liberation Sans',sans-serif;transform:translate(-50%,-50%);">1.5</div>
<div class="t" style="left:83.5px;top:132.8px;font-size:11.2px;font-family:'Liberation Sans',sans-serif;transform:translate(-100%,-50%);">0.00</div>
<div class="t" style="left:83.5px;top:117.05px;font-size:11.2px;font-family:'Liberation Sans',sans-serif;transform:translate(-100%,-50%);">0.01</div>
<div class="t" style="left:83.5px;top:101.3px;font-size:11.2px;font-family:'Liberation Sans',sans-serif;transform:translate(-100%,-50%);">0.02</div>
<div class="t" style="left:83.5px;top:85.55px;font-size:11.2px;font-family:'Liberation Sans',sans-serif;transform:translate(-100%,-50%);">0.03</div>
<div class="t" style="left:83.5px;top:69.8px;font-size:11.2px;font-family:'Liberation Sans',sans-serif;transform:translate(-100%,-50%);">0.04</div>
<div class="t" style="left:83.5px;top:54.05px;font-size:11.2px;font-family:'Liberation Sans',sans-serif;transform:translate(-100%,-50%);">0.05</div>
<div class="t" style="left:83.5px;top:38.3px;font-size:11.2px;font-family:'Liberation Sans',sans-serif;transform:translate(-100%,-50%);">0.06</div>
<div class="t" style="left:83.5px;top:22.549999999999986px;font-size:11.2px;font-family:'Liberation Sans',sans-serif;transform:translate(-100%,-50%);">0.07</div>
<div class="t" style="left:84.7px;top:140.3px;font-size:11.0px;font-family:'Liberation Sans',sans-serif;transform:translate(-50%,-50%);">0.0</div>
<div class="t" style="left:126.35px;top:140.3px;font-size:11.0px;font-family:'Liberation Sans',sans-serif;transform:translate(-50%,-50%);">0.5</div>
<div class="t" style="left:168.0px;top:140.3px;font-size:11.0px;font-family:'Liberation Sans',sans-serif;transform:translate(-50%,-50%);">1.0</div>
<div class="t" style="left:209.64999999999998px;top:140.3px;font-size:11.0px;font-family:'Liberation Sans',sans-serif;transform:translate(-50%,-50%);">1.5</div>
<div class="t" style="left:222.2px;top:337.3px;font-size:13px;font-family:'Liberation Sans',sans-serif;transform:translate(-50%,-50%);">Voltage (v)</div>
<div class="t" style="left:153.6px;top:156px;font-size:11.4px;font-family:'Liberation Sans',sans-serif;transform:translate(-50%,-50%);">Voltage (v)</div>
<div class="t" style="left:383.4px;top:23.5px;font-size:14px;font-family:'Liberation Serif',serif;transform:translate(-50%,-50%);">(a)</div>
<div class="t" style="left:296.1px;top:198.6px;font-size:11.8px;font-family:'Liberation Serif',serif;transform:translate(0,-50%);"><i>&lambda;</i>=0.00</div>
<div class="t" style="left:296.1px;top:218.29999999999998px;font-size:11.8px;font-family:'Liberation Serif',serif;transform:translate(0,-50%);"><i>&lambda;</i>=0.15</div>
<div class="t" style="left:296.1px;top:238.0px;font-size:11.8px;font-family:'Liberation Serif',serif;transform:translate(0,-50%);"><i>&lambda;</i>=0.30</div>
<div class="t" style="left:296.1px;top:257.7px;font-size:11.8px;font-family:'Liberation Serif',serif;transform:translate(0,-50%);"><i>&lambda;</i>=0.45</div>
<div class="t" style="left:296.1px;top:277.4px;font-size:11.8px;font-family:'Liberation Serif',serif;transform:translate(0,-50%);"><i>&lambda;</i>=0.60</div>
<div class="t" style="left:296.1px;top:297.1px;font-size:11.8px;font-family:'Liberation Serif',serif;transform:translate(0,-50%);"><i>&lambda;</i>=0.75</div>
<div class="t" style="left:7.3px;top:158.8px;font-size:13px;transform:translate(-50%,-50%) rotate(-90deg)">P/&gamma;(ev)</div>
<div class="t" style="left:51.0px;top:73.1px;font-size:12px;transform:translate(-50%,-50%) rotate(-90deg)">j/e&gamma;</div>
</div>
</div></body></html>
